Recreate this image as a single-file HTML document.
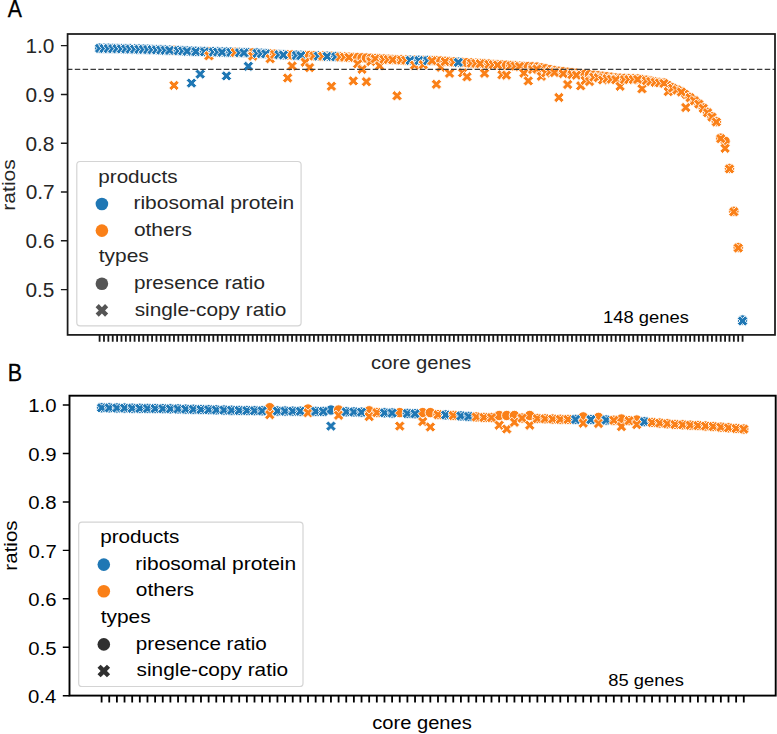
<!DOCTYPE html>
<html><head><meta charset="utf-8"><style>html,body{margin:0;padding:0;background:#fff;overflow:hidden}svg{display:block}text{font-family:"Liberation Sans",sans-serif}</style></head><body>
<svg width="777" height="734" viewBox="0 0 777 734">
<rect width="777" height="734" fill="#fff"/>
<g stroke="#fff" stroke-width="0.9"><circle cx="99.60" cy="48.10" r="5.20" fill="#1f77b4"/><circle cx="103.97" cy="48.20" r="5.20" fill="#1f77b4"/><circle cx="108.35" cy="48.30" r="5.20" fill="#1f77b4"/><circle cx="112.72" cy="48.40" r="5.20" fill="#1f77b4"/><circle cx="117.10" cy="48.50" r="5.20" fill="#1f77b4"/><circle cx="121.47" cy="48.60" r="5.20" fill="#1f77b4"/><circle cx="125.84" cy="48.70" r="5.20" fill="#1f77b4"/><circle cx="130.22" cy="48.80" r="5.20" fill="#1f77b4"/><circle cx="134.59" cy="48.90" r="5.20" fill="#1f77b4"/><circle cx="138.97" cy="49.00" r="5.20" fill="#1f77b4"/><circle cx="143.34" cy="49.10" r="5.20" fill="#1f77b4"/><circle cx="147.71" cy="49.27" r="5.20" fill="#1f77b4"/><circle cx="152.09" cy="49.43" r="5.20" fill="#1f77b4"/><circle cx="156.46" cy="49.60" r="5.20" fill="#1f77b4"/><circle cx="160.84" cy="49.77" r="5.20" fill="#1f77b4"/><circle cx="165.21" cy="49.93" r="5.20" fill="#1f77b4"/><circle cx="169.58" cy="50.10" r="5.20" fill="#1f77b4"/><circle cx="173.96" cy="50.30" r="5.20" fill="#fa8018"/><circle cx="178.33" cy="50.50" r="5.20" fill="#1f77b4"/><circle cx="182.71" cy="50.70" r="5.20" fill="#1f77b4"/><circle cx="187.08" cy="50.90" r="5.20" fill="#1f77b4"/><circle cx="191.45" cy="51.10" r="5.20" fill="#1f77b4"/><circle cx="195.83" cy="51.30" r="5.20" fill="#1f77b4"/><circle cx="200.20" cy="51.40" r="5.20" fill="#1f77b4"/><circle cx="204.58" cy="51.50" r="5.20" fill="#1f77b4"/><circle cx="208.95" cy="51.60" r="5.20" fill="#fa8018"/><circle cx="213.32" cy="51.70" r="5.20" fill="#1f77b4"/><circle cx="217.70" cy="51.80" r="5.20" fill="#1f77b4"/><circle cx="222.07" cy="51.90" r="5.20" fill="#1f77b4"/><circle cx="226.45" cy="52.00" r="5.20" fill="#1f77b4"/><circle cx="230.82" cy="52.10" r="5.20" fill="#1f77b4"/><circle cx="235.19" cy="52.25" r="5.20" fill="#fa8018"/><circle cx="239.57" cy="52.40" r="5.20" fill="#1f77b4"/><circle cx="243.94" cy="52.55" r="5.20" fill="#1f77b4"/><circle cx="248.32" cy="52.70" r="5.20" fill="#1f77b4"/><circle cx="252.69" cy="52.85" r="5.20" fill="#fa8018"/><circle cx="257.06" cy="53.00" r="5.20" fill="#1f77b4"/><circle cx="261.44" cy="53.28" r="5.20" fill="#1f77b4"/><circle cx="265.81" cy="53.57" r="5.20" fill="#1f77b4"/><circle cx="270.19" cy="53.85" r="5.20" fill="#fa8018"/><circle cx="274.56" cy="54.13" r="5.20" fill="#fa8018"/><circle cx="278.93" cy="54.42" r="5.20" fill="#1f77b4"/><circle cx="283.31" cy="54.70" r="5.20" fill="#1f77b4"/><circle cx="287.68" cy="54.85" r="5.20" fill="#fa8018"/><circle cx="292.06" cy="55.00" r="5.20" fill="#fa8018"/><circle cx="296.43" cy="55.15" r="5.20" fill="#1f77b4"/><circle cx="300.80" cy="55.30" r="5.20" fill="#1f77b4"/><circle cx="305.18" cy="55.43" r="5.20" fill="#fa8018"/><circle cx="309.55" cy="55.57" r="5.20" fill="#fa8018"/><circle cx="313.93" cy="55.70" r="5.20" fill="#fa8018"/><circle cx="318.30" cy="55.83" r="5.20" fill="#1f77b4"/><circle cx="322.67" cy="55.97" r="5.20" fill="#fa8018"/><circle cx="327.05" cy="56.10" r="5.20" fill="#1f77b4"/><circle cx="331.42" cy="56.30" r="5.20" fill="#fa8018"/><circle cx="335.80" cy="56.50" r="5.20" fill="#1f77b4"/><circle cx="340.17" cy="56.70" r="5.20" fill="#fa8018"/><circle cx="344.54" cy="56.90" r="5.20" fill="#fa8018"/><circle cx="348.92" cy="57.10" r="5.20" fill="#fa8018"/><circle cx="353.29" cy="57.33" r="5.20" fill="#fa8018"/><circle cx="357.67" cy="57.57" r="5.20" fill="#fa8018"/><circle cx="362.04" cy="57.80" r="5.20" fill="#fa8018"/><circle cx="366.41" cy="58.03" r="5.20" fill="#fa8018"/><circle cx="370.79" cy="58.27" r="5.20" fill="#fa8018"/><circle cx="375.16" cy="58.50" r="5.20" fill="#fa8018"/><circle cx="379.54" cy="58.75" r="5.20" fill="#fa8018"/><circle cx="383.91" cy="59.00" r="5.20" fill="#fa8018"/><circle cx="388.28" cy="59.25" r="5.20" fill="#fa8018"/><circle cx="392.66" cy="59.50" r="5.20" fill="#fa8018"/><circle cx="397.03" cy="59.65" r="5.20" fill="#fa8018"/><circle cx="401.41" cy="59.80" r="5.20" fill="#fa8018"/><circle cx="405.78" cy="59.95" r="5.20" fill="#fa8018"/><circle cx="410.15" cy="60.10" r="5.20" fill="#1f77b4"/><circle cx="414.53" cy="60.18" r="5.20" fill="#fa8018"/><circle cx="418.90" cy="60.26" r="5.20" fill="#1f77b4"/><circle cx="423.28" cy="60.34" r="5.20" fill="#fa8018"/><circle cx="427.65" cy="60.42" r="5.20" fill="#1f77b4"/><circle cx="432.02" cy="60.50" r="5.20" fill="#fa8018"/><circle cx="436.40" cy="60.77" r="5.20" fill="#fa8018"/><circle cx="440.77" cy="61.03" r="5.20" fill="#fa8018"/><circle cx="445.15" cy="61.30" r="5.20" fill="#fa8018"/><circle cx="449.52" cy="61.57" r="5.20" fill="#fa8018"/><circle cx="453.89" cy="61.83" r="5.20" fill="#fa8018"/><circle cx="458.27" cy="62.10" r="5.20" fill="#1f77b4"/><circle cx="462.64" cy="62.36" r="5.20" fill="#fa8018"/><circle cx="467.02" cy="62.62" r="5.20" fill="#fa8018"/><circle cx="471.39" cy="62.88" r="5.20" fill="#fa8018"/><circle cx="475.76" cy="63.14" r="5.20" fill="#fa8018"/><circle cx="480.14" cy="63.40" r="5.20" fill="#fa8018"/><circle cx="484.51" cy="63.73" r="5.20" fill="#fa8018"/><circle cx="488.89" cy="64.05" r="5.20" fill="#fa8018"/><circle cx="493.26" cy="64.38" r="5.20" fill="#fa8018"/><circle cx="497.63" cy="64.70" r="5.20" fill="#fa8018"/><circle cx="502.01" cy="64.96" r="5.20" fill="#fa8018"/><circle cx="506.38" cy="65.22" r="5.20" fill="#fa8018"/><circle cx="510.76" cy="65.48" r="5.20" fill="#fa8018"/><circle cx="515.13" cy="65.74" r="5.20" fill="#fa8018"/><circle cx="519.50" cy="66.14" r="5.20" fill="#fa8018"/><circle cx="523.88" cy="66.36" r="5.20" fill="#fa8018"/><circle cx="528.25" cy="66.57" r="5.20" fill="#fa8018"/><circle cx="532.63" cy="66.78" r="5.20" fill="#fa8018"/><circle cx="537.00" cy="67.00" r="5.20" fill="#fa8018"/><circle cx="541.37" cy="67.89" r="5.20" fill="#fa8018"/><circle cx="545.75" cy="68.78" r="5.20" fill="#fa8018"/><circle cx="550.12" cy="69.67" r="5.20" fill="#fa8018"/><circle cx="554.50" cy="70.56" r="5.20" fill="#fa8018"/><circle cx="558.87" cy="71.20" r="5.20" fill="#fa8018"/><circle cx="563.24" cy="71.70" r="5.20" fill="#fa8018"/><circle cx="567.62" cy="72.20" r="5.20" fill="#fa8018"/><circle cx="571.99" cy="72.70" r="5.20" fill="#fa8018"/><circle cx="576.37" cy="73.20" r="5.20" fill="#fa8018"/><circle cx="580.74" cy="73.70" r="5.20" fill="#fa8018"/><circle cx="585.11" cy="74.20" r="5.20" fill="#fa8018"/><circle cx="589.49" cy="74.70" r="5.20" fill="#fa8018"/><circle cx="593.86" cy="75.20" r="5.20" fill="#fa8018"/><circle cx="598.24" cy="75.70" r="5.20" fill="#fa8018"/><circle cx="602.61" cy="76.20" r="5.20" fill="#fa8018"/><circle cx="606.98" cy="76.70" r="5.20" fill="#fa8018"/><circle cx="611.36" cy="77.20" r="5.20" fill="#fa8018"/><circle cx="615.73" cy="77.95" r="5.20" fill="#fa8018"/><circle cx="620.11" cy="78.15" r="5.20" fill="#fa8018"/><circle cx="624.48" cy="78.35" r="5.20" fill="#fa8018"/><circle cx="628.85" cy="78.55" r="5.20" fill="#fa8018"/><circle cx="633.23" cy="78.75" r="5.20" fill="#fa8018"/><circle cx="637.60" cy="78.95" r="5.20" fill="#fa8018"/><circle cx="641.98" cy="79.46" r="5.20" fill="#fa8018"/><circle cx="646.35" cy="80.22" r="5.20" fill="#fa8018"/><circle cx="650.72" cy="81.03" r="5.20" fill="#fa8018"/><circle cx="655.10" cy="81.83" r="5.20" fill="#fa8018"/><circle cx="659.47" cy="82.39" r="5.20" fill="#fa8018"/><circle cx="663.85" cy="82.95" r="5.20" fill="#fa8018"/><circle cx="668.22" cy="85.36" r="5.20" fill="#fa8018"/><circle cx="672.59" cy="87.77" r="5.20" fill="#fa8018"/><circle cx="676.97" cy="89.58" r="5.20" fill="#fa8018"/><circle cx="681.34" cy="91.57" r="5.20" fill="#fa8018"/><circle cx="685.72" cy="94.56" r="5.20" fill="#fa8018"/><circle cx="690.09" cy="97.35" r="5.20" fill="#fa8018"/><circle cx="694.46" cy="100.34" r="5.20" fill="#fa8018"/><circle cx="698.84" cy="103.73" r="5.20" fill="#fa8018"/><circle cx="703.21" cy="107.92" r="5.20" fill="#fa8018"/><circle cx="707.59" cy="112.33" r="5.20" fill="#fa8018"/><circle cx="711.96" cy="116.74" r="5.20" fill="#fa8018"/><circle cx="716.33" cy="121.65" r="5.20" fill="#fa8018"/><circle cx="720.71" cy="138.10" r="5.20" fill="#fa8018"/><circle cx="725.08" cy="141.20" r="5.20" fill="#fa8018"/><circle cx="729.46" cy="168.40" r="5.20" fill="#fa8018"/><circle cx="733.83" cy="211.30" r="5.20" fill="#fa8018"/><circle cx="738.20" cy="247.50" r="5.20" fill="#fa8018"/><circle cx="742.58" cy="320.00" r="5.20" fill="#1f77b4"/><path d="M97.00 43.20 L99.60 45.80 L102.20 43.20 L104.80 45.80 L102.20 48.40 L104.80 51.00 L102.20 53.60 L99.60 51.00 L97.00 53.60 L94.40 51.00 L97.00 48.40 L94.40 45.80Z" fill="#1f77b4"/><path d="M101.37 43.30 L103.97 45.90 L106.57 43.30 L109.17 45.90 L106.57 48.50 L109.17 51.10 L106.57 53.70 L103.97 51.10 L101.37 53.70 L98.77 51.10 L101.37 48.50 L98.77 45.90Z" fill="#1f77b4"/><path d="M105.75 43.40 L108.35 46.00 L110.95 43.40 L113.55 46.00 L110.95 48.60 L113.55 51.20 L110.95 53.80 L108.35 51.20 L105.75 53.80 L103.15 51.20 L105.75 48.60 L103.15 46.00Z" fill="#1f77b4"/><path d="M110.12 43.50 L112.72 46.10 L115.32 43.50 L117.92 46.10 L115.32 48.70 L117.92 51.30 L115.32 53.90 L112.72 51.30 L110.12 53.90 L107.52 51.30 L110.12 48.70 L107.52 46.10Z" fill="#1f77b4"/><path d="M114.50 43.60 L117.10 46.20 L119.70 43.60 L122.30 46.20 L119.70 48.80 L122.30 51.40 L119.70 54.00 L117.10 51.40 L114.50 54.00 L111.90 51.40 L114.50 48.80 L111.90 46.20Z" fill="#1f77b4"/><path d="M118.87 43.70 L121.47 46.30 L124.07 43.70 L126.67 46.30 L124.07 48.90 L126.67 51.50 L124.07 54.10 L121.47 51.50 L118.87 54.10 L116.27 51.50 L118.87 48.90 L116.27 46.30Z" fill="#1f77b4"/><path d="M123.24 43.80 L125.84 46.40 L128.44 43.80 L131.04 46.40 L128.44 49.00 L131.04 51.60 L128.44 54.20 L125.84 51.60 L123.24 54.20 L120.64 51.60 L123.24 49.00 L120.64 46.40Z" fill="#1f77b4"/><path d="M127.62 43.90 L130.22 46.50 L132.82 43.90 L135.42 46.50 L132.82 49.10 L135.42 51.70 L132.82 54.30 L130.22 51.70 L127.62 54.30 L125.02 51.70 L127.62 49.10 L125.02 46.50Z" fill="#1f77b4"/><path d="M131.99 44.00 L134.59 46.60 L137.19 44.00 L139.79 46.60 L137.19 49.20 L139.79 51.80 L137.19 54.40 L134.59 51.80 L131.99 54.40 L129.39 51.80 L131.99 49.20 L129.39 46.60Z" fill="#1f77b4"/><path d="M136.37 44.10 L138.97 46.70 L141.57 44.10 L144.17 46.70 L141.57 49.30 L144.17 51.90 L141.57 54.50 L138.97 51.90 L136.37 54.50 L133.77 51.90 L136.37 49.30 L133.77 46.70Z" fill="#1f77b4"/><path d="M140.74 44.20 L143.34 46.80 L145.94 44.20 L148.54 46.80 L145.94 49.40 L148.54 52.00 L145.94 54.60 L143.34 52.00 L140.74 54.60 L138.14 52.00 L140.74 49.40 L138.14 46.80Z" fill="#1f77b4"/><path d="M145.11 44.37 L147.71 46.97 L150.31 44.37 L152.91 46.97 L150.31 49.57 L152.91 52.17 L150.31 54.77 L147.71 52.17 L145.11 54.77 L142.51 52.17 L145.11 49.57 L142.51 46.97Z" fill="#1f77b4"/><path d="M149.49 44.53 L152.09 47.13 L154.69 44.53 L157.29 47.13 L154.69 49.73 L157.29 52.33 L154.69 54.93 L152.09 52.33 L149.49 54.93 L146.89 52.33 L149.49 49.73 L146.89 47.13Z" fill="#1f77b4"/><path d="M153.86 44.70 L156.46 47.30 L159.06 44.70 L161.66 47.30 L159.06 49.90 L161.66 52.50 L159.06 55.10 L156.46 52.50 L153.86 55.10 L151.26 52.50 L153.86 49.90 L151.26 47.30Z" fill="#1f77b4"/><path d="M158.24 44.87 L160.84 47.47 L163.44 44.87 L166.04 47.47 L163.44 50.07 L166.04 52.67 L163.44 55.27 L160.84 52.67 L158.24 55.27 L155.64 52.67 L158.24 50.07 L155.64 47.47Z" fill="#1f77b4"/><path d="M162.61 45.03 L165.21 47.63 L167.81 45.03 L170.41 47.63 L167.81 50.23 L170.41 52.83 L167.81 55.43 L165.21 52.83 L162.61 55.43 L160.01 52.83 L162.61 50.23 L160.01 47.63Z" fill="#1f77b4"/><path d="M166.98 45.20 L169.58 47.80 L172.18 45.20 L174.78 47.80 L172.18 50.40 L174.78 53.00 L172.18 55.60 L169.58 53.00 L166.98 55.60 L164.38 53.00 L166.98 50.40 L164.38 47.80Z" fill="#1f77b4"/><path d="M171.36 80.20 L173.96 82.80 L176.56 80.20 L179.16 82.80 L176.56 85.40 L179.16 88.00 L176.56 90.60 L173.96 88.00 L171.36 90.60 L168.76 88.00 L171.36 85.40 L168.76 82.80Z" fill="#fa8018"/><path d="M175.73 45.60 L178.33 48.20 L180.93 45.60 L183.53 48.20 L180.93 50.80 L183.53 53.40 L180.93 56.00 L178.33 53.40 L175.73 56.00 L173.13 53.40 L175.73 50.80 L173.13 48.20Z" fill="#1f77b4"/><path d="M180.11 45.80 L182.71 48.40 L185.31 45.80 L187.91 48.40 L185.31 51.00 L187.91 53.60 L185.31 56.20 L182.71 53.60 L180.11 56.20 L177.51 53.60 L180.11 51.00 L177.51 48.40Z" fill="#1f77b4"/><path d="M184.48 46.00 L187.08 48.60 L189.68 46.00 L192.28 48.60 L189.68 51.20 L192.28 53.80 L189.68 56.40 L187.08 53.80 L184.48 56.40 L181.88 53.80 L184.48 51.20 L181.88 48.60Z" fill="#1f77b4"/><path d="M188.85 77.90 L191.45 80.50 L194.05 77.90 L196.65 80.50 L194.05 83.10 L196.65 85.70 L194.05 88.30 L191.45 85.70 L188.85 88.30 L186.25 85.70 L188.85 83.10 L186.25 80.50Z" fill="#1f77b4"/><path d="M193.23 46.40 L195.83 49.00 L198.43 46.40 L201.03 49.00 L198.43 51.60 L201.03 54.20 L198.43 56.80 L195.83 54.20 L193.23 56.80 L190.63 54.20 L193.23 51.60 L190.63 49.00Z" fill="#1f77b4"/><path d="M197.60 68.90 L200.20 71.50 L202.80 68.90 L205.40 71.50 L202.80 74.10 L205.40 76.70 L202.80 79.30 L200.20 76.70 L197.60 79.30 L195.00 76.70 L197.60 74.10 L195.00 71.50Z" fill="#1f77b4"/><path d="M201.98 46.60 L204.58 49.20 L207.18 46.60 L209.78 49.20 L207.18 51.80 L209.78 54.40 L207.18 57.00 L204.58 54.40 L201.98 57.00 L199.38 54.40 L201.98 51.80 L199.38 49.20Z" fill="#1f77b4"/><path d="M206.35 50.60 L208.95 53.20 L211.55 50.60 L214.15 53.20 L211.55 55.80 L214.15 58.40 L211.55 61.00 L208.95 58.40 L206.35 61.00 L203.75 58.40 L206.35 55.80 L203.75 53.20Z" fill="#fa8018"/><path d="M210.72 46.80 L213.32 49.40 L215.92 46.80 L218.52 49.40 L215.92 52.00 L218.52 54.60 L215.92 57.20 L213.32 54.60 L210.72 57.20 L208.12 54.60 L210.72 52.00 L208.12 49.40Z" fill="#1f77b4"/><path d="M215.10 46.90 L217.70 49.50 L220.30 46.90 L222.90 49.50 L220.30 52.10 L222.90 54.70 L220.30 57.30 L217.70 54.70 L215.10 57.30 L212.50 54.70 L215.10 52.10 L212.50 49.50Z" fill="#1f77b4"/><path d="M219.47 47.00 L222.07 49.60 L224.67 47.00 L227.27 49.60 L224.67 52.20 L227.27 54.80 L224.67 57.40 L222.07 54.80 L219.47 57.40 L216.87 54.80 L219.47 52.20 L216.87 49.60Z" fill="#1f77b4"/><path d="M223.85 70.70 L226.45 73.30 L229.05 70.70 L231.65 73.30 L229.05 75.90 L231.65 78.50 L229.05 81.10 L226.45 78.50 L223.85 81.10 L221.25 78.50 L223.85 75.90 L221.25 73.30Z" fill="#1f77b4"/><path d="M228.22 47.20 L230.82 49.80 L233.42 47.20 L236.02 49.80 L233.42 52.40 L236.02 55.00 L233.42 57.60 L230.82 55.00 L228.22 57.60 L225.62 55.00 L228.22 52.40 L225.62 49.80Z" fill="#1f77b4"/><path d="M232.59 47.35 L235.19 49.95 L237.79 47.35 L240.39 49.95 L237.79 52.55 L240.39 55.15 L237.79 57.75 L235.19 55.15 L232.59 57.75 L229.99 55.15 L232.59 52.55 L229.99 49.95Z" fill="#fa8018"/><path d="M236.97 47.50 L239.57 50.10 L242.17 47.50 L244.77 50.10 L242.17 52.70 L244.77 55.30 L242.17 57.90 L239.57 55.30 L236.97 57.90 L234.37 55.30 L236.97 52.70 L234.37 50.10Z" fill="#1f77b4"/><path d="M241.34 47.65 L243.94 50.25 L246.54 47.65 L249.14 50.25 L246.54 52.85 L249.14 55.45 L246.54 58.05 L243.94 55.45 L241.34 58.05 L238.74 55.45 L241.34 52.85 L238.74 50.25Z" fill="#1f77b4"/><path d="M245.72 61.10 L248.32 63.70 L250.92 61.10 L253.52 63.70 L250.92 66.30 L253.52 68.90 L250.92 71.50 L248.32 68.90 L245.72 71.50 L243.12 68.90 L245.72 66.30 L243.12 63.70Z" fill="#1f77b4"/><path d="M250.09 51.00 L252.69 53.60 L255.29 51.00 L257.89 53.60 L255.29 56.20 L257.89 58.80 L255.29 61.40 L252.69 58.80 L250.09 61.40 L247.49 58.80 L250.09 56.20 L247.49 53.60Z" fill="#fa8018"/><path d="M254.46 48.10 L257.06 50.70 L259.66 48.10 L262.26 50.70 L259.66 53.30 L262.26 55.90 L259.66 58.50 L257.06 55.90 L254.46 58.50 L251.86 55.90 L254.46 53.30 L251.86 50.70Z" fill="#1f77b4"/><path d="M258.84 48.38 L261.44 50.98 L264.04 48.38 L266.64 50.98 L264.04 53.58 L266.64 56.18 L264.04 58.78 L261.44 56.18 L258.84 58.78 L256.24 56.18 L258.84 53.58 L256.24 50.98Z" fill="#1f77b4"/><path d="M263.21 48.67 L265.81 51.27 L268.41 48.67 L271.01 51.27 L268.41 53.87 L271.01 56.47 L268.41 59.07 L265.81 56.47 L263.21 59.07 L260.61 56.47 L263.21 53.87 L260.61 51.27Z" fill="#1f77b4"/><path d="M267.59 53.50 L270.19 56.10 L272.79 53.50 L275.39 56.10 L272.79 58.70 L275.39 61.30 L272.79 63.90 L270.19 61.30 L267.59 63.90 L264.99 61.30 L267.59 58.70 L264.99 56.10Z" fill="#fa8018"/><path d="M271.96 49.23 L274.56 51.83 L277.16 49.23 L279.76 51.83 L277.16 54.43 L279.76 57.03 L277.16 59.63 L274.56 57.03 L271.96 59.63 L269.36 57.03 L271.96 54.43 L269.36 51.83Z" fill="#fa8018"/><path d="M276.33 49.52 L278.93 52.12 L281.53 49.52 L284.13 52.12 L281.53 54.72 L284.13 57.32 L281.53 59.92 L278.93 57.32 L276.33 59.92 L273.73 57.32 L276.33 54.72 L273.73 52.12Z" fill="#1f77b4"/><path d="M280.71 49.80 L283.31 52.40 L285.91 49.80 L288.51 52.40 L285.91 55.00 L288.51 57.60 L285.91 60.20 L283.31 57.60 L280.71 60.20 L278.11 57.60 L280.71 55.00 L278.11 52.40Z" fill="#1f77b4"/><path d="M285.08 72.80 L287.68 75.40 L290.28 72.80 L292.88 75.40 L290.28 78.00 L292.88 80.60 L290.28 83.20 L287.68 80.60 L285.08 83.20 L282.48 80.60 L285.08 78.00 L282.48 75.40Z" fill="#fa8018"/><path d="M289.46 60.80 L292.06 63.40 L294.66 60.80 L297.26 63.40 L294.66 66.00 L297.26 68.60 L294.66 71.20 L292.06 68.60 L289.46 71.20 L286.86 68.60 L289.46 66.00 L286.86 63.40Z" fill="#fa8018"/><path d="M293.83 50.25 L296.43 52.85 L299.03 50.25 L301.63 52.85 L299.03 55.45 L301.63 58.05 L299.03 60.65 L296.43 58.05 L293.83 60.65 L291.23 58.05 L293.83 55.45 L291.23 52.85Z" fill="#1f77b4"/><path d="M298.20 50.40 L300.80 53.00 L303.40 50.40 L306.00 53.00 L303.40 55.60 L306.00 58.20 L303.40 60.80 L300.80 58.20 L298.20 60.80 L295.60 58.20 L298.20 55.60 L295.60 53.00Z" fill="#1f77b4"/><path d="M302.58 57.00 L305.18 59.60 L307.78 57.00 L310.38 59.60 L307.78 62.20 L310.38 64.80 L307.78 67.40 L305.18 64.80 L302.58 67.40 L299.98 64.80 L302.58 62.20 L299.98 59.60Z" fill="#fa8018"/><path d="M306.95 62.40 L309.55 65.00 L312.15 62.40 L314.75 65.00 L312.15 67.60 L314.75 70.20 L312.15 72.80 L309.55 70.20 L306.95 72.80 L304.35 70.20 L306.95 67.60 L304.35 65.00Z" fill="#fa8018"/><path d="M311.33 50.80 L313.93 53.40 L316.53 50.80 L319.13 53.40 L316.53 56.00 L319.13 58.60 L316.53 61.20 L313.93 58.60 L311.33 61.20 L308.73 58.60 L311.33 56.00 L308.73 53.40Z" fill="#fa8018"/><path d="M315.70 50.93 L318.30 53.53 L320.90 50.93 L323.50 53.53 L320.90 56.13 L323.50 58.73 L320.90 61.33 L318.30 58.73 L315.70 61.33 L313.10 58.73 L315.70 56.13 L313.10 53.53Z" fill="#1f77b4"/><path d="M320.07 51.07 L322.67 53.67 L325.27 51.07 L327.87 53.67 L325.27 56.27 L327.87 58.87 L325.27 61.47 L322.67 58.87 L320.07 61.47 L317.47 58.87 L320.07 56.27 L317.47 53.67Z" fill="#fa8018"/><path d="M324.45 51.20 L327.05 53.80 L329.65 51.20 L332.25 53.80 L329.65 56.40 L332.25 59.00 L329.65 61.60 L327.05 59.00 L324.45 61.60 L321.85 59.00 L324.45 56.40 L321.85 53.80Z" fill="#1f77b4"/><path d="M328.82 81.10 L331.42 83.70 L334.02 81.10 L336.62 83.70 L334.02 86.30 L336.62 88.90 L334.02 91.50 L331.42 88.90 L328.82 91.50 L326.22 88.90 L328.82 86.30 L326.22 83.70Z" fill="#fa8018"/><path d="M333.20 51.60 L335.80 54.20 L338.40 51.60 L341.00 54.20 L338.40 56.80 L341.00 59.40 L338.40 62.00 L335.80 59.40 L333.20 62.00 L330.60 59.40 L333.20 56.80 L330.60 54.20Z" fill="#1f77b4"/><path d="M337.57 51.80 L340.17 54.40 L342.77 51.80 L345.37 54.40 L342.77 57.00 L345.37 59.60 L342.77 62.20 L340.17 59.60 L337.57 62.20 L334.97 59.60 L337.57 57.00 L334.97 54.40Z" fill="#fa8018"/><path d="M341.94 52.00 L344.54 54.60 L347.14 52.00 L349.74 54.60 L347.14 57.20 L349.74 59.80 L347.14 62.40 L344.54 59.80 L341.94 62.40 L339.34 59.80 L341.94 57.20 L339.34 54.60Z" fill="#fa8018"/><path d="M346.32 52.20 L348.92 54.80 L351.52 52.20 L354.12 54.80 L351.52 57.40 L354.12 60.00 L351.52 62.60 L348.92 60.00 L346.32 62.60 L343.72 60.00 L346.32 57.40 L343.72 54.80Z" fill="#fa8018"/><path d="M350.69 75.70 L353.29 78.30 L355.89 75.70 L358.49 78.30 L355.89 80.90 L358.49 83.50 L355.89 86.10 L353.29 83.50 L350.69 86.10 L348.09 83.50 L350.69 80.90 L348.09 78.30Z" fill="#fa8018"/><path d="M355.07 58.60 L357.67 61.20 L360.27 58.60 L362.87 61.20 L360.27 63.80 L362.87 66.40 L360.27 69.00 L357.67 66.40 L355.07 69.00 L352.47 66.40 L355.07 63.80 L352.47 61.20Z" fill="#fa8018"/><path d="M359.44 64.10 L362.04 66.70 L364.64 64.10 L367.24 66.70 L364.64 69.30 L367.24 71.90 L364.64 74.50 L362.04 71.90 L359.44 74.50 L356.84 71.90 L359.44 69.30 L356.84 66.70Z" fill="#fa8018"/><path d="M363.81 76.50 L366.41 79.10 L369.01 76.50 L371.61 79.10 L369.01 81.70 L371.61 84.30 L369.01 86.90 L366.41 84.30 L363.81 86.90 L361.21 84.30 L363.81 81.70 L361.21 79.10Z" fill="#fa8018"/><path d="M368.19 56.30 L370.79 58.90 L373.39 56.30 L375.99 58.90 L373.39 61.50 L375.99 64.10 L373.39 66.70 L370.79 64.10 L368.19 66.70 L365.59 64.10 L368.19 61.50 L365.59 58.90Z" fill="#fa8018"/><path d="M372.56 53.60 L375.16 56.20 L377.76 53.60 L380.36 56.20 L377.76 58.80 L380.36 61.40 L377.76 64.00 L375.16 61.40 L372.56 64.00 L369.96 61.40 L372.56 58.80 L369.96 56.20Z" fill="#fa8018"/><path d="M376.94 60.60 L379.54 63.20 L382.14 60.60 L384.74 63.20 L382.14 65.80 L384.74 68.40 L382.14 71.00 L379.54 68.40 L376.94 71.00 L374.34 68.40 L376.94 65.80 L374.34 63.20Z" fill="#fa8018"/><path d="M381.31 54.10 L383.91 56.70 L386.51 54.10 L389.11 56.70 L386.51 59.30 L389.11 61.90 L386.51 64.50 L383.91 61.90 L381.31 64.50 L378.71 61.90 L381.31 59.30 L378.71 56.70Z" fill="#fa8018"/><path d="M385.68 54.35 L388.28 56.95 L390.88 54.35 L393.48 56.95 L390.88 59.55 L393.48 62.15 L390.88 64.75 L388.28 62.15 L385.68 64.75 L383.08 62.15 L385.68 59.55 L383.08 56.95Z" fill="#fa8018"/><path d="M390.06 54.60 L392.66 57.20 L395.26 54.60 L397.86 57.20 L395.26 59.80 L397.86 62.40 L395.26 65.00 L392.66 62.40 L390.06 65.00 L387.46 62.40 L390.06 59.80 L387.46 57.20Z" fill="#fa8018"/><path d="M394.43 90.60 L397.03 93.20 L399.63 90.60 L402.23 93.20 L399.63 95.80 L402.23 98.40 L399.63 101.00 L397.03 98.40 L394.43 101.00 L391.83 98.40 L394.43 95.80 L391.83 93.20Z" fill="#fa8018"/><path d="M398.81 54.90 L401.41 57.50 L404.01 54.90 L406.61 57.50 L404.01 60.10 L406.61 62.70 L404.01 65.30 L401.41 62.70 L398.81 65.30 L396.21 62.70 L398.81 60.10 L396.21 57.50Z" fill="#fa8018"/><path d="M403.18 55.05 L405.78 57.65 L408.38 55.05 L410.98 57.65 L408.38 60.25 L410.98 62.85 L408.38 65.45 L405.78 62.85 L403.18 65.45 L400.58 62.85 L403.18 60.25 L400.58 57.65Z" fill="#fa8018"/><path d="M407.55 55.20 L410.15 57.80 L412.75 55.20 L415.35 57.80 L412.75 60.40 L415.35 63.00 L412.75 65.60 L410.15 63.00 L407.55 65.60 L404.95 63.00 L407.55 60.40 L404.95 57.80Z" fill="#1f77b4"/><path d="M411.93 60.00 L414.53 62.60 L417.13 60.00 L419.73 62.60 L417.13 65.20 L419.73 67.80 L417.13 70.40 L414.53 67.80 L411.93 70.40 L409.33 67.80 L411.93 65.20 L409.33 62.60Z" fill="#fa8018"/><path d="M416.30 55.36 L418.90 57.96 L421.50 55.36 L424.10 57.96 L421.50 60.56 L424.10 63.16 L421.50 65.76 L418.90 63.16 L416.30 65.76 L413.70 63.16 L416.30 60.56 L413.70 57.96Z" fill="#1f77b4"/><path d="M420.68 59.50 L423.28 62.10 L425.88 59.50 L428.48 62.10 L425.88 64.70 L428.48 67.30 L425.88 69.90 L423.28 67.30 L420.68 69.90 L418.08 67.30 L420.68 64.70 L418.08 62.10Z" fill="#fa8018"/><path d="M425.05 55.52 L427.65 58.12 L430.25 55.52 L432.85 58.12 L430.25 60.72 L432.85 63.32 L430.25 65.92 L427.65 63.32 L425.05 65.92 L422.45 63.32 L425.05 60.72 L422.45 58.12Z" fill="#1f77b4"/><path d="M429.42 55.60 L432.02 58.20 L434.62 55.60 L437.22 58.20 L434.62 60.80 L437.22 63.40 L434.62 66.00 L432.02 63.40 L429.42 66.00 L426.82 63.40 L429.42 60.80 L426.82 58.20Z" fill="#fa8018"/><path d="M433.80 79.10 L436.40 81.70 L439.00 79.10 L441.60 81.70 L439.00 84.30 L441.60 86.90 L439.00 89.50 L436.40 86.90 L433.80 89.50 L431.20 86.90 L433.80 84.30 L431.20 81.70Z" fill="#fa8018"/><path d="M438.17 62.10 L440.77 64.70 L443.37 62.10 L445.97 64.70 L443.37 67.30 L445.97 69.90 L443.37 72.50 L440.77 69.90 L438.17 72.50 L435.57 69.90 L438.17 67.30 L435.57 64.70Z" fill="#fa8018"/><path d="M442.55 56.40 L445.15 59.00 L447.75 56.40 L450.35 59.00 L447.75 61.60 L450.35 64.20 L447.75 66.80 L445.15 64.20 L442.55 66.80 L439.95 64.20 L442.55 61.60 L439.95 59.00Z" fill="#fa8018"/><path d="M446.92 68.10 L449.52 70.70 L452.12 68.10 L454.72 70.70 L452.12 73.30 L454.72 75.90 L452.12 78.50 L449.52 75.90 L446.92 78.50 L444.32 75.90 L446.92 73.30 L444.32 70.70Z" fill="#fa8018"/><path d="M451.29 56.93 L453.89 59.53 L456.49 56.93 L459.09 59.53 L456.49 62.13 L459.09 64.73 L456.49 67.33 L453.89 64.73 L451.29 67.33 L448.69 64.73 L451.29 62.13 L448.69 59.53Z" fill="#fa8018"/><path d="M455.67 57.20 L458.27 59.80 L460.87 57.20 L463.47 59.80 L460.87 62.40 L463.47 65.00 L460.87 67.60 L458.27 65.00 L455.67 67.60 L453.07 65.00 L455.67 62.40 L453.07 59.80Z" fill="#1f77b4"/><path d="M460.04 67.60 L462.64 70.20 L465.24 67.60 L467.84 70.20 L465.24 72.80 L467.84 75.40 L465.24 78.00 L462.64 75.40 L460.04 78.00 L457.44 75.40 L460.04 72.80 L457.44 70.20Z" fill="#fa8018"/><path d="M464.42 71.60 L467.02 74.20 L469.62 71.60 L472.22 74.20 L469.62 76.80 L472.22 79.40 L469.62 82.00 L467.02 79.40 L464.42 82.00 L461.82 79.40 L464.42 76.80 L461.82 74.20Z" fill="#fa8018"/><path d="M468.79 57.98 L471.39 60.58 L473.99 57.98 L476.59 60.58 L473.99 63.18 L476.59 65.78 L473.99 68.38 L471.39 65.78 L468.79 68.38 L466.19 65.78 L468.79 63.18 L466.19 60.58Z" fill="#fa8018"/><path d="M473.16 58.24 L475.76 60.84 L478.36 58.24 L480.96 60.84 L478.36 63.44 L480.96 66.04 L478.36 68.64 L475.76 66.04 L473.16 68.64 L470.56 66.04 L473.16 63.44 L470.56 60.84Z" fill="#fa8018"/><path d="M477.54 58.50 L480.14 61.10 L482.74 58.50 L485.34 61.10 L482.74 63.70 L485.34 66.30 L482.74 68.90 L480.14 66.30 L477.54 68.90 L474.94 66.30 L477.54 63.70 L474.94 61.10Z" fill="#fa8018"/><path d="M481.91 68.10 L484.51 70.70 L487.11 68.10 L489.71 70.70 L487.11 73.30 L489.71 75.90 L487.11 78.50 L484.51 75.90 L481.91 78.50 L479.31 75.90 L481.91 73.30 L479.31 70.70Z" fill="#fa8018"/><path d="M486.29 59.15 L488.89 61.75 L491.49 59.15 L494.09 61.75 L491.49 64.35 L494.09 66.95 L491.49 69.55 L488.89 66.95 L486.29 69.55 L483.69 66.95 L486.29 64.35 L483.69 61.75Z" fill="#fa8018"/><path d="M490.66 59.47 L493.26 62.07 L495.86 59.47 L498.46 62.07 L495.86 64.67 L498.46 67.27 L495.86 69.88 L493.26 67.27 L490.66 69.88 L488.06 67.27 L490.66 64.67 L488.06 62.07Z" fill="#fa8018"/><path d="M495.03 59.80 L497.63 62.40 L500.23 59.80 L502.83 62.40 L500.23 65.00 L502.83 67.60 L500.23 70.20 L497.63 67.60 L495.03 70.20 L492.43 67.60 L495.03 65.00 L492.43 62.40Z" fill="#fa8018"/><path d="M499.41 69.60 L502.01 72.20 L504.61 69.60 L507.21 72.20 L504.61 74.80 L507.21 77.40 L504.61 80.00 L502.01 77.40 L499.41 80.00 L496.81 77.40 L499.41 74.80 L496.81 72.20Z" fill="#fa8018"/><path d="M503.78 70.00 L506.38 72.60 L508.98 70.00 L511.58 72.60 L508.98 75.20 L511.58 77.80 L508.98 80.40 L506.38 77.80 L503.78 80.40 L501.18 77.80 L503.78 75.20 L501.18 72.60Z" fill="#fa8018"/><path d="M508.16 60.58 L510.76 63.18 L513.36 60.58 L515.96 63.18 L513.36 65.78 L515.96 68.38 L513.36 70.98 L510.76 68.38 L508.16 70.98 L505.56 68.38 L508.16 65.78 L505.56 63.18Z" fill="#fa8018"/><path d="M512.53 60.84 L515.13 63.44 L517.73 60.84 L520.33 63.44 L517.73 66.04 L520.33 68.64 L517.73 71.24 L515.13 68.64 L512.53 71.24 L509.93 68.64 L512.53 66.04 L509.93 63.44Z" fill="#fa8018"/><path d="M516.90 61.24 L519.50 63.84 L522.10 61.24 L524.70 63.84 L522.10 66.44 L524.70 69.04 L522.10 71.64 L519.50 69.04 L516.90 71.64 L514.30 69.04 L516.90 66.44 L514.30 63.84Z" fill="#fa8018"/><path d="M521.28 68.00 L523.88 70.60 L526.48 68.00 L529.08 70.60 L526.48 73.20 L529.08 75.80 L526.48 78.40 L523.88 75.80 L521.28 78.40 L518.68 75.80 L521.28 73.20 L518.68 70.60Z" fill="#fa8018"/><path d="M525.65 75.70 L528.25 78.30 L530.85 75.70 L533.45 78.30 L530.85 80.90 L533.45 83.50 L530.85 86.10 L528.25 83.50 L525.65 86.10 L523.05 83.50 L525.65 80.90 L523.05 78.30Z" fill="#fa8018"/><path d="M530.03 64.30 L532.63 66.90 L535.23 64.30 L537.83 66.90 L535.23 69.50 L537.83 72.10 L535.23 74.70 L532.63 72.10 L530.03 74.70 L527.43 72.10 L530.03 69.50 L527.43 66.90Z" fill="#fa8018"/><path d="M534.40 63.80 L537.00 66.40 L539.60 63.80 L542.20 66.40 L539.60 69.00 L542.20 71.60 L539.60 74.20 L537.00 71.60 L534.40 74.20 L531.80 71.60 L534.40 69.00 L531.80 66.40Z" fill="#fa8018"/><path d="M538.77 71.10 L541.37 73.70 L543.97 71.10 L546.57 73.70 L543.97 76.30 L546.57 78.90 L543.97 81.50 L541.37 78.90 L538.77 81.50 L536.17 78.90 L538.77 76.30 L536.17 73.70Z" fill="#fa8018"/><path d="M543.15 67.80 L545.75 70.40 L548.35 67.80 L550.95 70.40 L548.35 73.00 L550.95 75.60 L548.35 78.20 L545.75 75.60 L543.15 78.20 L540.55 75.60 L543.15 73.00 L540.55 70.40Z" fill="#fa8018"/><path d="M547.52 66.47 L550.12 69.07 L552.72 66.47 L555.32 69.07 L552.72 71.67 L555.32 74.27 L552.72 76.87 L550.12 74.27 L547.52 76.87 L544.92 74.27 L547.52 71.67 L544.92 69.07Z" fill="#fa8018"/><path d="M551.90 67.36 L554.50 69.96 L557.10 67.36 L559.70 69.96 L557.10 72.56 L559.70 75.16 L557.10 77.76 L554.50 75.16 L551.90 77.76 L549.30 75.16 L551.90 72.56 L549.30 69.96Z" fill="#fa8018"/><path d="M556.27 92.30 L558.87 94.90 L561.47 92.30 L564.07 94.90 L561.47 97.50 L564.07 100.10 L561.47 102.70 L558.87 100.10 L556.27 102.70 L553.67 100.10 L556.27 97.50 L553.67 94.90Z" fill="#fa8018"/><path d="M560.64 68.50 L563.24 71.10 L565.84 68.50 L568.44 71.10 L565.84 73.70 L568.44 76.30 L565.84 78.90 L563.24 76.30 L560.64 78.90 L558.04 76.30 L560.64 73.70 L558.04 71.10Z" fill="#fa8018"/><path d="M565.02 79.30 L567.62 81.90 L570.22 79.30 L572.82 81.90 L570.22 84.50 L572.82 87.10 L570.22 89.70 L567.62 87.10 L565.02 89.70 L562.42 87.10 L565.02 84.50 L562.42 81.90Z" fill="#fa8018"/><path d="M569.39 69.50 L571.99 72.10 L574.59 69.50 L577.19 72.10 L574.59 74.70 L577.19 77.30 L574.59 79.90 L571.99 77.30 L569.39 79.90 L566.79 77.30 L569.39 74.70 L566.79 72.10Z" fill="#fa8018"/><path d="M573.77 70.00 L576.37 72.60 L578.97 70.00 L581.57 72.60 L578.97 75.20 L581.57 77.80 L578.97 80.40 L576.37 77.80 L573.77 80.40 L571.17 77.80 L573.77 75.20 L571.17 72.60Z" fill="#fa8018"/><path d="M578.14 80.60 L580.74 83.20 L583.34 80.60 L585.94 83.20 L583.34 85.80 L585.94 88.40 L583.34 91.00 L580.74 88.40 L578.14 91.00 L575.54 88.40 L578.14 85.80 L575.54 83.20Z" fill="#fa8018"/><path d="M582.51 75.30 L585.11 77.90 L587.71 75.30 L590.31 77.90 L587.71 80.50 L590.31 83.10 L587.71 85.70 L585.11 83.10 L582.51 85.70 L579.91 83.10 L582.51 80.50 L579.91 77.90Z" fill="#fa8018"/><path d="M586.89 76.30 L589.49 78.90 L592.09 76.30 L594.69 78.90 L592.09 81.50 L594.69 84.10 L592.09 86.70 L589.49 84.10 L586.89 86.70 L584.29 84.10 L586.89 81.50 L584.29 78.90Z" fill="#fa8018"/><path d="M591.26 72.00 L593.86 74.60 L596.46 72.00 L599.06 74.60 L596.46 77.20 L599.06 79.80 L596.46 82.40 L593.86 79.80 L591.26 82.40 L588.66 79.80 L591.26 77.20 L588.66 74.60Z" fill="#fa8018"/><path d="M595.64 72.50 L598.24 75.10 L600.84 72.50 L603.44 75.10 L600.84 77.70 L603.44 80.30 L600.84 82.90 L598.24 80.30 L595.64 82.90 L593.04 80.30 L595.64 77.70 L593.04 75.10Z" fill="#fa8018"/><path d="M600.01 74.80 L602.61 77.40 L605.21 74.80 L607.81 77.40 L605.21 80.00 L607.81 82.60 L605.21 85.20 L602.61 82.60 L600.01 85.20 L597.41 82.60 L600.01 80.00 L597.41 77.40Z" fill="#fa8018"/><path d="M604.38 73.50 L606.98 76.10 L609.58 73.50 L612.18 76.10 L609.58 78.70 L612.18 81.30 L609.58 83.90 L606.98 81.30 L604.38 83.90 L601.78 81.30 L604.38 78.70 L601.78 76.10Z" fill="#fa8018"/><path d="M608.76 74.00 L611.36 76.60 L613.96 74.00 L616.56 76.60 L613.96 79.20 L616.56 81.80 L613.96 84.40 L611.36 81.80 L608.76 84.40 L606.16 81.80 L608.76 79.20 L606.16 76.60Z" fill="#fa8018"/><path d="M613.13 74.50 L615.73 77.10 L618.33 74.50 L620.93 77.10 L618.33 79.70 L620.93 82.30 L618.33 84.90 L615.73 82.30 L613.13 84.90 L610.53 82.30 L613.13 79.70 L610.53 77.10Z" fill="#fa8018"/><path d="M617.51 81.10 L620.11 83.70 L622.71 81.10 L625.31 83.70 L622.71 86.30 L625.31 88.90 L622.71 91.50 L620.11 88.90 L617.51 91.50 L614.91 88.90 L617.51 86.30 L614.91 83.70Z" fill="#fa8018"/><path d="M621.88 74.40 L624.48 77.00 L627.08 74.40 L629.68 77.00 L627.08 79.60 L629.68 82.20 L627.08 84.80 L624.48 82.20 L621.88 84.80 L619.28 82.20 L621.88 79.60 L619.28 77.00Z" fill="#fa8018"/><path d="M626.25 74.35 L628.85 76.95 L631.45 74.35 L634.05 76.95 L631.45 79.55 L634.05 82.15 L631.45 84.75 L628.85 82.15 L626.25 84.75 L623.65 82.15 L626.25 79.55 L623.65 76.95Z" fill="#fa8018"/><path d="M630.63 74.30 L633.23 76.90 L635.83 74.30 L638.43 76.90 L635.83 79.50 L638.43 82.10 L635.83 84.70 L633.23 82.10 L630.63 84.70 L628.03 82.10 L630.63 79.50 L628.03 76.90Z" fill="#fa8018"/><path d="M635.00 74.25 L637.60 76.85 L640.20 74.25 L642.80 76.85 L640.20 79.45 L642.80 82.05 L640.20 84.65 L637.60 82.05 L635.00 84.65 L632.40 82.05 L635.00 79.45 L632.40 76.85Z" fill="#fa8018"/><path d="M639.38 83.60 L641.98 86.20 L644.58 83.60 L647.18 86.20 L644.58 88.80 L647.18 91.40 L644.58 94.00 L641.98 91.40 L639.38 94.00 L636.78 91.40 L639.38 88.80 L636.78 86.20Z" fill="#fa8018"/><path d="M643.75 75.50 L646.35 78.10 L648.95 75.50 L651.55 78.10 L648.95 80.70 L651.55 83.30 L648.95 85.90 L646.35 83.30 L643.75 85.90 L641.15 83.30 L643.75 80.70 L641.15 78.10Z" fill="#fa8018"/><path d="M648.12 76.30 L650.72 78.90 L653.32 76.30 L655.92 78.90 L653.32 81.50 L655.92 84.10 L653.32 86.70 L650.72 84.10 L648.12 86.70 L645.52 84.10 L648.12 81.50 L645.52 78.90Z" fill="#fa8018"/><path d="M652.50 77.10 L655.10 79.70 L657.70 77.10 L660.30 79.70 L657.70 82.30 L660.30 84.90 L657.70 87.50 L655.10 84.90 L652.50 87.50 L649.90 84.90 L652.50 82.30 L649.90 79.70Z" fill="#fa8018"/><path d="M656.87 77.65 L659.47 80.25 L662.07 77.65 L664.67 80.25 L662.07 82.85 L664.67 85.45 L662.07 88.05 L659.47 85.45 L656.87 88.05 L654.27 85.45 L656.87 82.85 L654.27 80.25Z" fill="#fa8018"/><path d="M661.25 78.20 L663.85 80.80 L666.45 78.20 L669.05 80.80 L666.45 83.40 L669.05 86.00 L666.45 88.60 L663.85 86.00 L661.25 88.60 L658.65 86.00 L661.25 83.40 L658.65 80.80Z" fill="#fa8018"/><path d="M665.62 86.40 L668.22 89.00 L670.82 86.40 L673.42 89.00 L670.82 91.60 L673.42 94.20 L670.82 96.80 L668.22 94.20 L665.62 96.80 L663.02 94.20 L665.62 91.60 L663.02 89.00Z" fill="#fa8018"/><path d="M669.99 83.00 L672.59 85.60 L675.19 83.00 L677.79 85.60 L675.19 88.20 L677.79 90.80 L675.19 93.40 L672.59 90.80 L669.99 93.40 L667.39 90.80 L669.99 88.20 L667.39 85.60Z" fill="#fa8018"/><path d="M674.37 84.80 L676.97 87.40 L679.57 84.80 L682.17 87.40 L679.57 90.00 L682.17 92.60 L679.57 95.20 L676.97 92.60 L674.37 95.20 L671.77 92.60 L674.37 90.00 L671.77 87.40Z" fill="#fa8018"/><path d="M678.74 86.78 L681.34 89.38 L683.94 86.78 L686.54 89.38 L683.94 91.98 L686.54 94.58 L683.94 97.18 L681.34 94.58 L678.74 97.18 L676.14 94.58 L678.74 91.98 L676.14 89.38Z" fill="#fa8018"/><path d="M683.12 102.30 L685.72 104.90 L688.32 102.30 L690.92 104.90 L688.32 107.50 L690.92 110.10 L688.32 112.70 L685.72 110.10 L683.12 112.70 L680.52 110.10 L683.12 107.50 L680.52 104.90Z" fill="#fa8018"/><path d="M687.49 92.55 L690.09 95.15 L692.69 92.55 L695.29 95.15 L692.69 97.75 L695.29 100.35 L692.69 102.95 L690.09 100.35 L687.49 102.95 L684.89 100.35 L687.49 97.75 L684.89 95.15Z" fill="#fa8018"/><path d="M691.86 95.53 L694.46 98.13 L697.06 95.53 L699.66 98.13 L697.06 100.73 L699.66 103.33 L697.06 105.93 L694.46 103.33 L691.86 105.93 L689.26 103.33 L691.86 100.73 L689.26 98.13Z" fill="#fa8018"/><path d="M696.24 98.92 L698.84 101.52 L701.44 98.92 L704.04 101.52 L701.44 104.12 L704.04 106.72 L701.44 109.32 L698.84 106.72 L696.24 109.32 L693.64 106.72 L696.24 104.12 L693.64 101.52Z" fill="#fa8018"/><path d="M700.61 103.10 L703.21 105.70 L705.81 103.10 L708.41 105.70 L705.81 108.30 L708.41 110.90 L705.81 113.50 L703.21 110.90 L700.61 113.50 L698.01 110.90 L700.61 108.30 L698.01 105.70Z" fill="#fa8018"/><path d="M704.99 107.50 L707.59 110.10 L710.19 107.50 L712.79 110.10 L710.19 112.70 L712.79 115.30 L710.19 117.90 L707.59 115.30 L704.99 117.90 L702.39 115.30 L704.99 112.70 L702.39 110.10Z" fill="#fa8018"/><path d="M709.36 111.90 L711.96 114.50 L714.56 111.90 L717.16 114.50 L714.56 117.10 L717.16 119.70 L714.56 122.30 L711.96 119.70 L709.36 122.30 L706.76 119.70 L709.36 117.10 L706.76 114.50Z" fill="#fa8018"/><path d="M713.73 116.80 L716.33 119.40 L718.93 116.80 L721.53 119.40 L718.93 122.00 L721.53 124.60 L718.93 127.20 L716.33 124.60 L713.73 127.20 L711.13 124.60 L713.73 122.00 L711.13 119.40Z" fill="#fa8018"/><path d="M718.11 133.40 L720.71 136.00 L723.31 133.40 L725.91 136.00 L723.31 138.60 L725.91 141.20 L723.31 143.80 L720.71 141.20 L718.11 143.80 L715.51 141.20 L718.11 138.60 L715.51 136.00Z" fill="#fa8018"/><path d="M722.48 143.10 L725.08 145.70 L727.68 143.10 L730.28 145.70 L727.68 148.30 L730.28 150.90 L727.68 153.50 L725.08 150.90 L722.48 153.50 L719.88 150.90 L722.48 148.30 L719.88 145.70Z" fill="#fa8018"/><path d="M726.86 163.70 L729.46 166.30 L732.06 163.70 L734.66 166.30 L732.06 168.90 L734.66 171.50 L732.06 174.10 L729.46 171.50 L726.86 174.10 L724.26 171.50 L726.86 168.90 L724.26 166.30Z" fill="#fa8018"/><path d="M731.23 206.60 L733.83 209.20 L736.43 206.60 L739.03 209.20 L736.43 211.80 L739.03 214.40 L736.43 217.00 L733.83 214.40 L731.23 217.00 L728.63 214.40 L731.23 211.80 L728.63 209.20Z" fill="#fa8018"/><path d="M735.60 242.80 L738.20 245.40 L740.80 242.80 L743.40 245.40 L740.80 248.00 L743.40 250.60 L740.80 253.20 L738.20 250.60 L735.60 253.20 L733.00 250.60 L735.60 248.00 L733.00 245.40Z" fill="#fa8018"/><path d="M739.98 315.80 L742.58 318.40 L745.18 315.80 L747.78 318.40 L745.18 321.00 L747.78 323.60 L745.18 326.20 L742.58 323.60 L739.98 326.20 L737.38 323.60 L739.98 321.00 L737.38 318.40Z" fill="#1f77b4"/></g>
<line x1="67.6" y1="69.4" x2="775.0" y2="69.4" stroke="#3a3a3a" stroke-width="1.3" stroke-dasharray="5.47 2.37" stroke-dashoffset="0.64"/>
<rect x="67.6" y="34.0" width="707.40" height="300.90" fill="none" stroke="#1a1a1a" stroke-width="1.75"/>
<path d="M60.90 45.60H67.60 M60.90 94.40H67.60 M60.90 143.20H67.60 M60.90 192.00H67.60 M60.90 240.80H67.60 M60.90 289.60H67.60" stroke="#1a1a1a" stroke-width="1.45" fill="none"/>
<path d="M99.60 334.90V341.80 M103.97 334.90V341.80 M108.35 334.90V341.80 M112.72 334.90V341.80 M117.10 334.90V341.80 M121.47 334.90V341.80 M125.84 334.90V341.80 M130.22 334.90V341.80 M134.59 334.90V341.80 M138.97 334.90V341.80 M143.34 334.90V341.80 M147.71 334.90V341.80 M152.09 334.90V341.80 M156.46 334.90V341.80 M160.84 334.90V341.80 M165.21 334.90V341.80 M169.58 334.90V341.80 M173.96 334.90V341.80 M178.33 334.90V341.80 M182.71 334.90V341.80 M187.08 334.90V341.80 M191.45 334.90V341.80 M195.83 334.90V341.80 M200.20 334.90V341.80 M204.58 334.90V341.80 M208.95 334.90V341.80 M213.32 334.90V341.80 M217.70 334.90V341.80 M222.07 334.90V341.80 M226.45 334.90V341.80 M230.82 334.90V341.80 M235.19 334.90V341.80 M239.57 334.90V341.80 M243.94 334.90V341.80 M248.32 334.90V341.80 M252.69 334.90V341.80 M257.06 334.90V341.80 M261.44 334.90V341.80 M265.81 334.90V341.80 M270.19 334.90V341.80 M274.56 334.90V341.80 M278.93 334.90V341.80 M283.31 334.90V341.80 M287.68 334.90V341.80 M292.06 334.90V341.80 M296.43 334.90V341.80 M300.80 334.90V341.80 M305.18 334.90V341.80 M309.55 334.90V341.80 M313.93 334.90V341.80 M318.30 334.90V341.80 M322.67 334.90V341.80 M327.05 334.90V341.80 M331.42 334.90V341.80 M335.80 334.90V341.80 M340.17 334.90V341.80 M344.54 334.90V341.80 M348.92 334.90V341.80 M353.29 334.90V341.80 M357.67 334.90V341.80 M362.04 334.90V341.80 M366.41 334.90V341.80 M370.79 334.90V341.80 M375.16 334.90V341.80 M379.54 334.90V341.80 M383.91 334.90V341.80 M388.28 334.90V341.80 M392.66 334.90V341.80 M397.03 334.90V341.80 M401.41 334.90V341.80 M405.78 334.90V341.80 M410.15 334.90V341.80 M414.53 334.90V341.80 M418.90 334.90V341.80 M423.28 334.90V341.80 M427.65 334.90V341.80 M432.02 334.90V341.80 M436.40 334.90V341.80 M440.77 334.90V341.80 M445.15 334.90V341.80 M449.52 334.90V341.80 M453.89 334.90V341.80 M458.27 334.90V341.80 M462.64 334.90V341.80 M467.02 334.90V341.80 M471.39 334.90V341.80 M475.76 334.90V341.80 M480.14 334.90V341.80 M484.51 334.90V341.80 M488.89 334.90V341.80 M493.26 334.90V341.80 M497.63 334.90V341.80 M502.01 334.90V341.80 M506.38 334.90V341.80 M510.76 334.90V341.80 M515.13 334.90V341.80 M519.50 334.90V341.80 M523.88 334.90V341.80 M528.25 334.90V341.80 M532.63 334.90V341.80 M537.00 334.90V341.80 M541.37 334.90V341.80 M545.75 334.90V341.80 M550.12 334.90V341.80 M554.50 334.90V341.80 M558.87 334.90V341.80 M563.24 334.90V341.80 M567.62 334.90V341.80 M571.99 334.90V341.80 M576.37 334.90V341.80 M580.74 334.90V341.80 M585.11 334.90V341.80 M589.49 334.90V341.80 M593.86 334.90V341.80 M598.24 334.90V341.80 M602.61 334.90V341.80 M606.98 334.90V341.80 M611.36 334.90V341.80 M615.73 334.90V341.80 M620.11 334.90V341.80 M624.48 334.90V341.80 M628.85 334.90V341.80 M633.23 334.90V341.80 M637.60 334.90V341.80 M641.98 334.90V341.80 M646.35 334.90V341.80 M650.72 334.90V341.80 M655.10 334.90V341.80 M659.47 334.90V341.80 M663.85 334.90V341.80 M668.22 334.90V341.80 M672.59 334.90V341.80 M676.97 334.90V341.80 M681.34 334.90V341.80 M685.72 334.90V341.80 M690.09 334.90V341.80 M694.46 334.90V341.80 M698.84 334.90V341.80 M703.21 334.90V341.80 M707.59 334.90V341.80 M711.96 334.90V341.80 M716.33 334.90V341.80 M720.71 334.90V341.80 M725.08 334.90V341.80 M729.46 334.90V341.80 M733.83 334.90V341.80 M738.20 334.90V341.80 M742.58 334.90V341.80" stroke="#1a1a1a" stroke-width="1.8" fill="none"/>
<text transform="translate(25.43,52.90) scale(1.0700,1)" font-size="19.50" fill="#262626">1.0</text>
<text transform="translate(25.54,101.70) scale(1.0700,1)" font-size="19.50" fill="#262626">0.9</text>
<text transform="translate(25.43,150.50) scale(1.0700,1)" font-size="19.50" fill="#262626">0.8</text>
<text transform="translate(25.64,199.30) scale(1.0700,1)" font-size="19.50" fill="#262626">0.7</text>
<text transform="translate(25.54,248.10) scale(1.0700,1)" font-size="19.50" fill="#262626">0.6</text>
<text transform="translate(25.43,296.90) scale(1.0700,1)" font-size="19.50" fill="#262626">0.5</text>
<text transform="translate(15.10,210.67) rotate(-90) scale(1.1087,1)" font-size="19.00" fill="#262626">ratios</text>
<text transform="translate(371.09,368.60) scale(1.0805,1)" font-size="18.70" fill="#262626">core genes</text>
<text transform="translate(603.12,322.70) scale(1.0549,1)" font-size="17.40" fill="#000">148 genes</text>
<rect x="76.80" y="161.50" width="224.30" height="164.40" rx="3.3" fill="#fff" fill-opacity="0.8" stroke="#d4d4d4" stroke-width="1.2"/>
<text transform="translate(98.26,182.50) scale(1.0994,1)" font-size="18.80" fill="#262626">products</text>
<circle cx="101.90" cy="204.00" r="6.3" fill="#1f77b4"/>
<text transform="translate(133.44,209.10) scale(1.1160,1)" font-size="18.80" fill="#262626">ribosomal protein</text>
<circle cx="101.90" cy="230.60" r="6.3" fill="#fa8018"/>
<text transform="translate(133.96,235.70) scale(1.1110,1)" font-size="18.80" fill="#262626">others</text>
<text transform="translate(98.79,262.30) scale(1.1116,1)" font-size="18.80" fill="#262626">types</text>
<circle cx="101.90" cy="283.80" r="6.3" fill="#555"/>
<text transform="translate(133.96,288.90) scale(1.0997,1)" font-size="18.80" fill="#262626">presence ratio</text>
<path d="M98.75 304.10 L101.90 307.25 L105.05 304.10 L108.20 307.25 L105.05 310.40 L108.20 313.55 L105.05 316.70 L101.90 313.55 L98.75 316.70 L95.60 313.55 L98.75 310.40 L95.60 307.25Z" fill="#555"/>
<text transform="translate(134.68,315.50) scale(1.1074,1)" font-size="18.80" fill="#262626">single-copy ratio</text>
<text transform="translate(7.84,17.05) scale(0.8838,1)" font-size="24.00" fill="#000" stroke="#000" stroke-width="0.3">A</text>
<g stroke="#fff" stroke-width="0.9"><circle cx="101.60" cy="407.70" r="5.20" fill="#1f77b4"/><circle cx="109.24" cy="407.82" r="5.20" fill="#1f77b4"/><circle cx="116.89" cy="407.94" r="5.20" fill="#1f77b4"/><circle cx="124.53" cy="408.06" r="5.20" fill="#1f77b4"/><circle cx="132.18" cy="408.18" r="5.20" fill="#1f77b4"/><circle cx="139.82" cy="408.30" r="5.20" fill="#1f77b4"/><circle cx="147.47" cy="408.42" r="5.20" fill="#1f77b4"/><circle cx="155.12" cy="408.54" r="5.20" fill="#1f77b4"/><circle cx="162.76" cy="408.66" r="5.20" fill="#1f77b4"/><circle cx="170.40" cy="408.78" r="5.20" fill="#1f77b4"/><circle cx="178.05" cy="408.90" r="5.20" fill="#1f77b4"/><circle cx="185.69" cy="409.09" r="5.20" fill="#1f77b4"/><circle cx="193.34" cy="409.27" r="5.20" fill="#1f77b4"/><circle cx="200.98" cy="409.46" r="5.20" fill="#1f77b4"/><circle cx="208.63" cy="409.65" r="5.20" fill="#1f77b4"/><circle cx="216.27" cy="409.84" r="5.20" fill="#1f77b4"/><circle cx="223.92" cy="410.02" r="5.20" fill="#1f77b4"/><circle cx="231.56" cy="410.21" r="5.20" fill="#1f77b4"/><circle cx="239.21" cy="410.40" r="5.20" fill="#1f77b4"/><circle cx="246.85" cy="410.52" r="5.20" fill="#1f77b4"/><circle cx="254.50" cy="410.65" r="5.20" fill="#1f77b4"/><circle cx="262.14" cy="410.77" r="5.20" fill="#1f77b4"/><circle cx="269.79" cy="407.70" r="5.20" fill="#fa8018"/><circle cx="277.43" cy="410.97" r="5.20" fill="#1f77b4"/><circle cx="285.08" cy="411.04" r="5.20" fill="#1f77b4"/><circle cx="292.73" cy="411.11" r="5.20" fill="#1f77b4"/><circle cx="300.37" cy="411.19" r="5.20" fill="#1f77b4"/><circle cx="308.01" cy="409.00" r="5.20" fill="#fa8018"/><circle cx="315.66" cy="411.33" r="5.20" fill="#1f77b4"/><circle cx="323.30" cy="411.40" r="5.20" fill="#1f77b4"/><circle cx="330.95" cy="410.00" r="5.20" fill="#1f77b4"/><circle cx="338.59" cy="410.00" r="5.20" fill="#fa8018"/><circle cx="346.24" cy="411.77" r="5.20" fill="#1f77b4"/><circle cx="353.88" cy="411.90" r="5.20" fill="#1f77b4"/><circle cx="361.53" cy="412.11" r="5.20" fill="#1f77b4"/><circle cx="369.17" cy="410.80" r="5.20" fill="#fa8018"/><circle cx="376.82" cy="412.54" r="5.20" fill="#fa8018"/><circle cx="384.47" cy="412.76" r="5.20" fill="#1f77b4"/><circle cx="392.11" cy="412.97" r="5.20" fill="#1f77b4"/><circle cx="399.75" cy="412.60" r="5.20" fill="#fa8018"/><circle cx="407.40" cy="413.40" r="5.20" fill="#1f77b4"/><circle cx="415.04" cy="413.70" r="5.20" fill="#1f77b4"/><circle cx="422.69" cy="412.60" r="5.20" fill="#fa8018"/><circle cx="430.33" cy="412.60" r="5.20" fill="#fa8018"/><circle cx="437.98" cy="414.60" r="5.20" fill="#fa8018"/><circle cx="445.62" cy="414.90" r="5.20" fill="#1f77b4"/><circle cx="453.27" cy="415.40" r="5.20" fill="#fa8018"/><circle cx="460.91" cy="415.90" r="5.20" fill="#1f77b4"/><circle cx="468.56" cy="416.40" r="5.20" fill="#1f77b4"/><circle cx="476.20" cy="416.90" r="5.20" fill="#fa8018"/><circle cx="483.85" cy="417.40" r="5.20" fill="#fa8018"/><circle cx="491.50" cy="417.52" r="5.20" fill="#fa8018"/><circle cx="499.14" cy="415.50" r="5.20" fill="#fa8018"/><circle cx="506.78" cy="415.50" r="5.20" fill="#fa8018"/><circle cx="514.43" cy="415.50" r="5.20" fill="#fa8018"/><circle cx="522.07" cy="418.00" r="5.20" fill="#fa8018"/><circle cx="529.72" cy="415.50" r="5.20" fill="#fa8018"/><circle cx="537.37" cy="418.52" r="5.20" fill="#fa8018"/><circle cx="545.01" cy="418.78" r="5.20" fill="#fa8018"/><circle cx="552.65" cy="419.04" r="5.20" fill="#fa8018"/><circle cx="560.30" cy="419.30" r="5.20" fill="#fa8018"/><circle cx="567.94" cy="419.35" r="5.20" fill="#fa8018"/><circle cx="575.59" cy="419.40" r="5.20" fill="#1f77b4"/><circle cx="583.24" cy="416.90" r="5.20" fill="#fa8018"/><circle cx="590.88" cy="419.50" r="5.20" fill="#1f77b4"/><circle cx="598.52" cy="417.40" r="5.20" fill="#fa8018"/><circle cx="606.17" cy="419.97" r="5.20" fill="#1f77b4"/><circle cx="613.81" cy="420.20" r="5.20" fill="#fa8018"/><circle cx="621.46" cy="419.00" r="5.20" fill="#fa8018"/><circle cx="629.11" cy="420.67" r="5.20" fill="#fa8018"/><circle cx="636.75" cy="420.00" r="5.20" fill="#fa8018"/><circle cx="644.39" cy="421.65" r="5.20" fill="#1f77b4"/><circle cx="652.04" cy="422.40" r="5.20" fill="#fa8018"/><circle cx="659.68" cy="423.07" r="5.20" fill="#fa8018"/><circle cx="667.33" cy="423.73" r="5.20" fill="#fa8018"/><circle cx="674.98" cy="424.40" r="5.20" fill="#fa8018"/><circle cx="682.62" cy="424.77" r="5.20" fill="#fa8018"/><circle cx="690.26" cy="425.13" r="5.20" fill="#fa8018"/><circle cx="697.91" cy="425.50" r="5.20" fill="#fa8018"/><circle cx="705.55" cy="426.00" r="5.20" fill="#fa8018"/><circle cx="713.20" cy="426.50" r="5.20" fill="#fa8018"/><circle cx="720.85" cy="427.12" r="5.20" fill="#fa8018"/><circle cx="728.49" cy="427.75" r="5.20" fill="#fa8018"/><circle cx="736.13" cy="428.38" r="5.20" fill="#fa8018"/><circle cx="743.78" cy="429.00" r="5.20" fill="#fa8018"/><path d="M99.00 402.60 L101.60 405.20 L104.20 402.60 L106.80 405.20 L104.20 407.80 L106.80 410.40 L104.20 413.00 L101.60 410.40 L99.00 413.00 L96.40 410.40 L99.00 407.80 L96.40 405.20Z" fill="#1f77b4"/><path d="M106.64 402.72 L109.24 405.32 L111.84 402.72 L114.44 405.32 L111.84 407.92 L114.44 410.52 L111.84 413.12 L109.24 410.52 L106.64 413.12 L104.04 410.52 L106.64 407.92 L104.04 405.32Z" fill="#1f77b4"/><path d="M114.29 402.84 L116.89 405.44 L119.49 402.84 L122.09 405.44 L119.49 408.04 L122.09 410.64 L119.49 413.24 L116.89 410.64 L114.29 413.24 L111.69 410.64 L114.29 408.04 L111.69 405.44Z" fill="#1f77b4"/><path d="M121.94 402.96 L124.53 405.56 L127.13 402.96 L129.73 405.56 L127.13 408.16 L129.73 410.76 L127.13 413.36 L124.53 410.76 L121.94 413.36 L119.33 410.76 L121.94 408.16 L119.33 405.56Z" fill="#1f77b4"/><path d="M129.58 403.08 L132.18 405.68 L134.78 403.08 L137.38 405.68 L134.78 408.28 L137.38 410.88 L134.78 413.48 L132.18 410.88 L129.58 413.48 L126.98 410.88 L129.58 408.28 L126.98 405.68Z" fill="#1f77b4"/><path d="M137.22 403.20 L139.82 405.80 L142.42 403.20 L145.02 405.80 L142.42 408.40 L145.02 411.00 L142.42 413.60 L139.82 411.00 L137.22 413.60 L134.62 411.00 L137.22 408.40 L134.62 405.80Z" fill="#1f77b4"/><path d="M144.87 403.32 L147.47 405.92 L150.07 403.32 L152.67 405.92 L150.07 408.52 L152.67 411.12 L150.07 413.72 L147.47 411.12 L144.87 413.72 L142.27 411.12 L144.87 408.52 L142.27 405.92Z" fill="#1f77b4"/><path d="M152.52 403.44 L155.12 406.04 L157.72 403.44 L160.31 406.04 L157.72 408.64 L160.31 411.24 L157.72 413.84 L155.12 411.24 L152.52 413.84 L149.92 411.24 L152.52 408.64 L149.92 406.04Z" fill="#1f77b4"/><path d="M160.16 403.56 L162.76 406.16 L165.36 403.56 L167.96 406.16 L165.36 408.76 L167.96 411.36 L165.36 413.96 L162.76 411.36 L160.16 413.96 L157.56 411.36 L160.16 408.76 L157.56 406.16Z" fill="#1f77b4"/><path d="M167.80 403.68 L170.40 406.28 L173.00 403.68 L175.60 406.28 L173.00 408.88 L175.60 411.48 L173.00 414.08 L170.40 411.48 L167.80 414.08 L165.20 411.48 L167.80 408.88 L165.20 406.28Z" fill="#1f77b4"/><path d="M175.45 403.80 L178.05 406.40 L180.65 403.80 L183.25 406.40 L180.65 409.00 L183.25 411.60 L180.65 414.20 L178.05 411.60 L175.45 414.20 L172.85 411.60 L175.45 409.00 L172.85 406.40Z" fill="#1f77b4"/><path d="M183.09 403.99 L185.69 406.59 L188.29 403.99 L190.89 406.59 L188.29 409.19 L190.89 411.79 L188.29 414.39 L185.69 411.79 L183.09 414.39 L180.50 411.79 L183.09 409.19 L180.50 406.59Z" fill="#1f77b4"/><path d="M190.74 404.18 L193.34 406.77 L195.94 404.18 L198.54 406.77 L195.94 409.38 L198.54 411.98 L195.94 414.57 L193.34 411.98 L190.74 414.57 L188.14 411.98 L190.74 409.38 L188.14 406.77Z" fill="#1f77b4"/><path d="M198.38 404.36 L200.98 406.96 L203.58 404.36 L206.18 406.96 L203.58 409.56 L206.18 412.16 L203.58 414.76 L200.98 412.16 L198.38 414.76 L195.78 412.16 L198.38 409.56 L195.78 406.96Z" fill="#1f77b4"/><path d="M206.03 404.55 L208.63 407.15 L211.23 404.55 L213.83 407.15 L211.23 409.75 L213.83 412.35 L211.23 414.95 L208.63 412.35 L206.03 414.95 L203.43 412.35 L206.03 409.75 L203.43 407.15Z" fill="#1f77b4"/><path d="M213.67 404.74 L216.27 407.34 L218.87 404.74 L221.47 407.34 L218.87 409.94 L221.47 412.54 L218.87 415.14 L216.27 412.54 L213.67 415.14 L211.07 412.54 L213.67 409.94 L211.07 407.34Z" fill="#1f77b4"/><path d="M221.32 404.93 L223.92 407.52 L226.52 404.93 L229.12 407.52 L226.52 410.12 L229.12 412.73 L226.52 415.32 L223.92 412.73 L221.32 415.32 L218.72 412.73 L221.32 410.12 L218.72 407.52Z" fill="#1f77b4"/><path d="M228.97 405.11 L231.56 407.71 L234.16 405.11 L236.76 407.71 L234.16 410.31 L236.76 412.91 L234.16 415.51 L231.56 412.91 L228.97 415.51 L226.37 412.91 L228.97 410.31 L226.37 407.71Z" fill="#1f77b4"/><path d="M236.61 405.30 L239.21 407.90 L241.81 405.30 L244.41 407.90 L241.81 410.50 L244.41 413.10 L241.81 415.70 L239.21 413.10 L236.61 415.70 L234.01 413.10 L236.61 410.50 L234.01 407.90Z" fill="#1f77b4"/><path d="M244.25 405.43 L246.85 408.02 L249.45 405.43 L252.05 408.02 L249.45 410.62 L252.05 413.23 L249.45 415.82 L246.85 413.23 L244.25 415.82 L241.66 413.23 L244.25 410.62 L241.66 408.02Z" fill="#1f77b4"/><path d="M251.90 405.55 L254.50 408.15 L257.10 405.55 L259.70 408.15 L257.10 410.75 L259.70 413.35 L257.10 415.95 L254.50 413.35 L251.90 415.95 L249.30 413.35 L251.90 410.75 L249.30 408.15Z" fill="#1f77b4"/><path d="M259.54 405.68 L262.14 408.27 L264.75 405.68 L267.34 408.27 L264.75 410.88 L267.34 413.48 L264.75 416.07 L262.14 413.48 L259.54 416.07 L256.94 413.48 L259.54 410.88 L256.94 408.27Z" fill="#1f77b4"/><path d="M267.19 409.50 L269.79 412.10 L272.39 409.50 L274.99 412.10 L272.39 414.70 L274.99 417.30 L272.39 419.90 L269.79 417.30 L267.19 419.90 L264.59 417.30 L267.19 414.70 L264.59 412.10Z" fill="#fa8018"/><path d="M274.83 405.87 L277.43 408.47 L280.03 405.87 L282.63 408.47 L280.03 411.07 L282.63 413.67 L280.03 416.27 L277.43 413.67 L274.83 416.27 L272.23 413.67 L274.83 411.07 L272.23 408.47Z" fill="#1f77b4"/><path d="M282.48 405.94 L285.08 408.54 L287.68 405.94 L290.28 408.54 L287.68 411.14 L290.28 413.74 L287.68 416.34 L285.08 413.74 L282.48 416.34 L279.88 413.74 L282.48 411.14 L279.88 408.54Z" fill="#1f77b4"/><path d="M290.12 406.01 L292.73 408.61 L295.33 406.01 L297.93 408.61 L295.33 411.21 L297.93 413.81 L295.33 416.41 L292.73 413.81 L290.12 416.41 L287.53 413.81 L290.12 411.21 L287.53 408.61Z" fill="#1f77b4"/><path d="M297.77 406.09 L300.37 408.69 L302.97 406.09 L305.57 408.69 L302.97 411.29 L305.57 413.89 L302.97 416.49 L300.37 413.89 L297.77 416.49 L295.17 413.89 L297.77 411.29 L295.17 408.69Z" fill="#1f77b4"/><path d="M305.41 407.60 L308.01 410.20 L310.62 407.60 L313.21 410.20 L310.62 412.80 L313.21 415.40 L310.62 418.00 L308.01 415.40 L305.41 418.00 L302.81 415.40 L305.41 412.80 L302.81 410.20Z" fill="#fa8018"/><path d="M313.06 406.23 L315.66 408.83 L318.26 406.23 L320.86 408.83 L318.26 411.43 L320.86 414.03 L318.26 416.63 L315.66 414.03 L313.06 416.63 L310.46 414.03 L313.06 411.43 L310.46 408.83Z" fill="#1f77b4"/><path d="M320.70 406.30 L323.30 408.90 L325.90 406.30 L328.50 408.90 L325.90 411.50 L328.50 414.10 L325.90 416.70 L323.30 414.10 L320.70 416.70 L318.10 414.10 L320.70 411.50 L318.10 408.90Z" fill="#1f77b4"/><path d="M328.35 420.90 L330.95 423.50 L333.55 420.90 L336.15 423.50 L333.55 426.10 L336.15 428.70 L333.55 431.30 L330.95 428.70 L328.35 431.30 L325.75 428.70 L328.35 426.10 L325.75 423.50Z" fill="#1f77b4"/><path d="M335.99 410.10 L338.59 412.70 L341.19 410.10 L343.79 412.70 L341.19 415.30 L343.79 417.90 L341.19 420.50 L338.59 417.90 L335.99 420.50 L333.39 417.90 L335.99 415.30 L333.39 412.70Z" fill="#fa8018"/><path d="M343.64 406.68 L346.24 409.27 L348.84 406.68 L351.44 409.27 L348.84 411.88 L351.44 414.48 L348.84 417.07 L346.24 414.48 L343.64 417.07 L341.04 414.48 L343.64 411.88 L341.04 409.27Z" fill="#1f77b4"/><path d="M351.28 406.80 L353.88 409.40 L356.49 406.80 L359.08 409.40 L356.49 412.00 L359.08 414.60 L356.49 417.20 L353.88 414.60 L351.28 417.20 L348.69 414.60 L351.28 412.00 L348.69 409.40Z" fill="#1f77b4"/><path d="M358.93 407.01 L361.53 409.61 L364.13 407.01 L366.73 409.61 L364.13 412.21 L366.73 414.81 L364.13 417.41 L361.53 414.81 L358.93 417.41 L356.33 414.81 L358.93 412.21 L356.33 409.61Z" fill="#1f77b4"/><path d="M366.57 411.40 L369.17 414.00 L371.77 411.40 L374.37 414.00 L371.77 416.60 L374.37 419.20 L371.77 421.80 L369.17 419.20 L366.57 421.80 L363.97 419.20 L366.57 416.60 L363.97 414.00Z" fill="#fa8018"/><path d="M374.22 407.44 L376.82 410.04 L379.42 407.44 L382.02 410.04 L379.42 412.64 L382.02 415.24 L379.42 417.84 L376.82 415.24 L374.22 417.84 L371.62 415.24 L374.22 412.64 L371.62 410.04Z" fill="#fa8018"/><path d="M381.87 407.66 L384.47 410.26 L387.07 407.66 L389.67 410.26 L387.07 412.86 L389.67 415.46 L387.07 418.06 L384.47 415.46 L381.87 418.06 L379.27 415.46 L381.87 412.86 L379.27 410.26Z" fill="#1f77b4"/><path d="M389.51 407.87 L392.11 410.47 L394.71 407.87 L397.31 410.47 L394.71 413.07 L397.31 415.67 L394.71 418.27 L392.11 415.67 L389.51 418.27 L386.91 415.67 L389.51 413.07 L386.91 410.47Z" fill="#1f77b4"/><path d="M397.15 420.90 L399.75 423.50 L402.36 420.90 L404.95 423.50 L402.36 426.10 L404.95 428.70 L402.36 431.30 L399.75 428.70 L397.15 431.30 L394.56 428.70 L397.15 426.10 L394.56 423.50Z" fill="#fa8018"/><path d="M404.80 408.30 L407.40 410.90 L410.00 408.30 L412.60 410.90 L410.00 413.50 L412.60 416.10 L410.00 418.70 L407.40 416.10 L404.80 418.70 L402.20 416.10 L404.80 413.50 L402.20 410.90Z" fill="#1f77b4"/><path d="M412.44 408.60 L415.04 411.20 L417.64 408.60 L420.24 411.20 L417.64 413.80 L420.24 416.40 L417.64 419.00 L415.04 416.40 L412.44 419.00 L409.84 416.40 L412.44 413.80 L409.84 411.20Z" fill="#1f77b4"/><path d="M420.09 416.40 L422.69 419.00 L425.29 416.40 L427.89 419.00 L425.29 421.60 L427.89 424.20 L425.29 426.80 L422.69 424.20 L420.09 426.80 L417.49 424.20 L420.09 421.60 L417.49 419.00Z" fill="#fa8018"/><path d="M427.73 421.80 L430.33 424.40 L432.93 421.80 L435.53 424.40 L432.93 427.00 L435.53 429.60 L432.93 432.20 L430.33 429.60 L427.73 432.20 L425.13 429.60 L427.73 427.00 L425.13 424.40Z" fill="#fa8018"/><path d="M435.38 409.50 L437.98 412.10 L440.58 409.50 L443.18 412.10 L440.58 414.70 L443.18 417.30 L440.58 419.90 L437.98 417.30 L435.38 419.90 L432.78 417.30 L435.38 414.70 L432.78 412.10Z" fill="#fa8018"/><path d="M443.02 409.80 L445.62 412.40 L448.23 409.80 L450.82 412.40 L448.23 415.00 L450.82 417.60 L448.23 420.20 L445.62 417.60 L443.02 420.20 L440.43 417.60 L443.02 415.00 L440.43 412.40Z" fill="#1f77b4"/><path d="M450.67 410.30 L453.27 412.90 L455.87 410.30 L458.47 412.90 L455.87 415.50 L458.47 418.10 L455.87 420.70 L453.27 418.10 L450.67 420.70 L448.07 418.10 L450.67 415.50 L448.07 412.90Z" fill="#fa8018"/><path d="M458.31 410.80 L460.91 413.40 L463.51 410.80 L466.11 413.40 L463.51 416.00 L466.11 418.60 L463.51 421.20 L460.91 418.60 L458.31 421.20 L455.71 418.60 L458.31 416.00 L455.71 413.40Z" fill="#1f77b4"/><path d="M465.96 411.30 L468.56 413.90 L471.16 411.30 L473.76 413.90 L471.16 416.50 L473.76 419.10 L471.16 421.70 L468.56 419.10 L465.96 421.70 L463.36 419.10 L465.96 416.50 L463.36 413.90Z" fill="#1f77b4"/><path d="M473.60 411.80 L476.20 414.40 L478.80 411.80 L481.40 414.40 L478.80 417.00 L481.40 419.60 L478.80 422.20 L476.20 419.60 L473.60 422.20 L471.00 419.60 L473.60 417.00 L471.00 414.40Z" fill="#fa8018"/><path d="M481.25 412.30 L483.85 414.90 L486.45 412.30 L489.05 414.90 L486.45 417.50 L489.05 420.10 L486.45 422.70 L483.85 420.10 L481.25 422.70 L478.65 420.10 L481.25 417.50 L478.65 414.90Z" fill="#fa8018"/><path d="M488.89 412.42 L491.50 415.02 L494.10 412.42 L496.69 415.02 L494.10 417.62 L496.69 420.22 L494.10 422.82 L491.50 420.22 L488.89 422.82 L486.30 420.22 L488.89 417.62 L486.30 415.02Z" fill="#fa8018"/><path d="M496.54 420.00 L499.14 422.60 L501.74 420.00 L504.34 422.60 L501.74 425.20 L504.34 427.80 L501.74 430.40 L499.14 427.80 L496.54 430.40 L493.94 427.80 L496.54 425.20 L493.94 422.60Z" fill="#fa8018"/><path d="M504.18 423.80 L506.78 426.40 L509.38 423.80 L511.98 426.40 L509.38 429.00 L511.98 431.60 L509.38 434.20 L506.78 431.60 L504.18 434.20 L501.58 431.60 L504.18 429.00 L501.58 426.40Z" fill="#fa8018"/><path d="M511.83 417.10 L514.43 419.70 L517.03 417.10 L519.63 419.70 L517.03 422.30 L519.63 424.90 L517.03 427.50 L514.43 424.90 L511.83 427.50 L509.23 424.90 L511.83 422.30 L509.23 419.70Z" fill="#fa8018"/><path d="M519.47 412.90 L522.07 415.50 L524.67 412.90 L527.27 415.50 L524.67 418.10 L527.27 420.70 L524.67 423.30 L522.07 420.70 L519.47 423.30 L516.87 420.70 L519.47 418.10 L516.87 415.50Z" fill="#fa8018"/><path d="M527.12 420.00 L529.72 422.60 L532.32 420.00 L534.92 422.60 L532.32 425.20 L534.92 427.80 L532.32 430.40 L529.72 427.80 L527.12 430.40 L524.52 427.80 L527.12 425.20 L524.52 422.60Z" fill="#fa8018"/><path d="M534.76 413.42 L537.37 416.02 L539.97 413.42 L542.57 416.02 L539.97 418.62 L542.57 421.22 L539.97 423.82 L537.37 421.22 L534.76 423.82 L532.16 421.22 L534.76 418.62 L532.16 416.02Z" fill="#fa8018"/><path d="M542.41 413.68 L545.01 416.28 L547.61 413.68 L550.21 416.28 L547.61 418.88 L550.21 421.48 L547.61 424.08 L545.01 421.48 L542.41 424.08 L539.81 421.48 L542.41 418.88 L539.81 416.28Z" fill="#fa8018"/><path d="M550.05 413.94 L552.65 416.54 L555.25 413.94 L557.86 416.54 L555.25 419.14 L557.86 421.74 L555.25 424.34 L552.65 421.74 L550.05 424.34 L547.45 421.74 L550.05 419.14 L547.45 416.54Z" fill="#fa8018"/><path d="M557.70 414.20 L560.30 416.80 L562.90 414.20 L565.50 416.80 L562.90 419.40 L565.50 422.00 L562.90 424.60 L560.30 422.00 L557.70 424.60 L555.10 422.00 L557.70 419.40 L555.10 416.80Z" fill="#fa8018"/><path d="M565.34 414.25 L567.94 416.85 L570.54 414.25 L573.14 416.85 L570.54 419.45 L573.14 422.05 L570.54 424.65 L567.94 422.05 L565.34 424.65 L562.74 422.05 L565.34 419.45 L562.74 416.85Z" fill="#fa8018"/><path d="M572.99 414.30 L575.59 416.90 L578.19 414.30 L580.79 416.90 L578.19 419.50 L580.79 422.10 L578.19 424.70 L575.59 422.10 L572.99 424.70 L570.39 422.10 L572.99 419.50 L570.39 416.90Z" fill="#1f77b4"/><path d="M580.63 418.00 L583.24 420.60 L585.84 418.00 L588.44 420.60 L585.84 423.20 L588.44 425.80 L585.84 428.40 L583.24 425.80 L580.63 428.40 L578.03 425.80 L580.63 423.20 L578.03 420.60Z" fill="#fa8018"/><path d="M588.28 414.40 L590.88 417.00 L593.48 414.40 L596.08 417.00 L593.48 419.60 L596.08 422.20 L593.48 424.80 L590.88 422.20 L588.28 424.80 L585.68 422.20 L588.28 419.60 L585.68 417.00Z" fill="#1f77b4"/><path d="M595.92 418.30 L598.52 420.90 L601.12 418.30 L603.73 420.90 L601.12 423.50 L603.73 426.10 L601.12 428.70 L598.52 426.10 L595.92 428.70 L593.32 426.10 L595.92 423.50 L593.32 420.90Z" fill="#fa8018"/><path d="M603.57 414.87 L606.17 417.47 L608.77 414.87 L611.37 417.47 L608.77 420.07 L611.37 422.67 L608.77 425.27 L606.17 422.67 L603.57 425.27 L600.97 422.67 L603.57 420.07 L600.97 417.47Z" fill="#1f77b4"/><path d="M611.21 415.10 L613.81 417.70 L616.41 415.10 L619.01 417.70 L616.41 420.30 L619.01 422.90 L616.41 425.50 L613.81 422.90 L611.21 425.50 L608.61 422.90 L611.21 420.30 L608.61 417.70Z" fill="#fa8018"/><path d="M618.86 421.40 L621.46 424.00 L624.06 421.40 L626.66 424.00 L624.06 426.60 L626.66 429.20 L624.06 431.80 L621.46 429.20 L618.86 431.80 L616.26 429.20 L618.86 426.60 L616.26 424.00Z" fill="#fa8018"/><path d="M626.50 415.57 L629.11 418.17 L631.71 415.57 L634.31 418.17 L631.71 420.77 L634.31 423.37 L631.71 425.97 L629.11 423.37 L626.50 425.97 L623.90 423.37 L626.50 420.77 L623.90 418.17Z" fill="#fa8018"/><path d="M634.15 419.40 L636.75 422.00 L639.35 419.40 L641.95 422.00 L639.35 424.60 L641.95 427.20 L639.35 429.80 L636.75 427.20 L634.15 429.80 L631.55 427.20 L634.15 424.60 L631.55 422.00Z" fill="#fa8018"/><path d="M641.79 416.55 L644.39 419.15 L647.00 416.55 L649.60 419.15 L647.00 421.75 L649.60 424.35 L647.00 426.95 L644.39 424.35 L641.79 426.95 L639.19 424.35 L641.79 421.75 L639.19 419.15Z" fill="#1f77b4"/><path d="M649.44 417.30 L652.04 419.90 L654.64 417.30 L657.24 419.90 L654.64 422.50 L657.24 425.10 L654.64 427.70 L652.04 425.10 L649.44 427.70 L646.84 425.10 L649.44 422.50 L646.84 419.90Z" fill="#fa8018"/><path d="M657.08 417.97 L659.68 420.57 L662.28 417.97 L664.88 420.57 L662.28 423.17 L664.88 425.77 L662.28 428.37 L659.68 425.77 L657.08 428.37 L654.48 425.77 L657.08 423.17 L654.48 420.57Z" fill="#fa8018"/><path d="M664.73 418.63 L667.33 421.23 L669.93 418.63 L672.53 421.23 L669.93 423.83 L672.53 426.43 L669.93 429.03 L667.33 426.43 L664.73 429.03 L662.13 426.43 L664.73 423.83 L662.13 421.23Z" fill="#fa8018"/><path d="M672.38 419.30 L674.98 421.90 L677.58 419.30 L680.18 421.90 L677.58 424.50 L680.18 427.10 L677.58 429.70 L674.98 427.10 L672.38 429.70 L669.77 427.10 L672.38 424.50 L669.77 421.90Z" fill="#fa8018"/><path d="M680.02 419.67 L682.62 422.27 L685.22 419.67 L687.82 422.27 L685.22 424.87 L687.82 427.47 L685.22 430.07 L682.62 427.47 L680.02 430.07 L677.42 427.47 L680.02 424.87 L677.42 422.27Z" fill="#fa8018"/><path d="M687.66 420.03 L690.26 422.63 L692.87 420.03 L695.47 422.63 L692.87 425.23 L695.47 427.83 L692.87 430.43 L690.26 427.83 L687.66 430.43 L685.06 427.83 L687.66 425.23 L685.06 422.63Z" fill="#fa8018"/><path d="M695.31 420.40 L697.91 423.00 L700.51 420.40 L703.11 423.00 L700.51 425.60 L703.11 428.20 L700.51 430.80 L697.91 428.20 L695.31 430.80 L692.71 428.20 L695.31 425.60 L692.71 423.00Z" fill="#fa8018"/><path d="M702.95 420.90 L705.55 423.50 L708.15 420.90 L710.75 423.50 L708.15 426.10 L710.75 428.70 L708.15 431.30 L705.55 428.70 L702.95 431.30 L700.35 428.70 L702.95 426.10 L700.35 423.50Z" fill="#fa8018"/><path d="M710.60 421.40 L713.20 424.00 L715.80 421.40 L718.40 424.00 L715.80 426.60 L718.40 429.20 L715.80 431.80 L713.20 429.20 L710.60 431.80 L708.00 429.20 L710.60 426.60 L708.00 424.00Z" fill="#fa8018"/><path d="M718.25 422.03 L720.85 424.62 L723.45 422.03 L726.05 424.62 L723.45 427.23 L726.05 429.83 L723.45 432.43 L720.85 429.83 L718.25 432.43 L715.64 429.83 L718.25 427.23 L715.64 424.62Z" fill="#fa8018"/><path d="M725.89 422.65 L728.49 425.25 L731.09 422.65 L733.69 425.25 L731.09 427.85 L733.69 430.45 L731.09 433.05 L728.49 430.45 L725.89 433.05 L723.29 430.45 L725.89 427.85 L723.29 425.25Z" fill="#fa8018"/><path d="M733.53 423.28 L736.13 425.88 L738.74 423.28 L741.34 425.88 L738.74 428.48 L741.34 431.08 L738.74 433.68 L736.13 431.08 L733.53 433.68 L730.93 431.08 L733.53 428.48 L730.93 425.88Z" fill="#fa8018"/><path d="M741.18 423.90 L743.78 426.50 L746.38 423.90 L748.98 426.50 L746.38 429.10 L748.98 431.70 L746.38 434.30 L743.78 431.70 L741.18 434.30 L738.58 431.70 L741.18 429.10 L738.58 426.50Z" fill="#fa8018"/></g>
<rect x="69.5" y="395.7" width="706.20" height="299.90" fill="none" stroke="#000" stroke-width="1.9"/>
<path d="M62.80 405.00H69.50 M62.80 453.45H69.50 M62.80 501.90H69.50 M62.80 550.35H69.50 M62.80 598.80H69.50 M62.80 647.25H69.50 M62.80 695.70H69.50" stroke="#000" stroke-width="1.45" fill="none"/>
<path d="M101.60 695.60V702.50 M109.24 695.60V702.50 M116.89 695.60V702.50 M124.53 695.60V702.50 M132.18 695.60V702.50 M139.82 695.60V702.50 M147.47 695.60V702.50 M155.12 695.60V702.50 M162.76 695.60V702.50 M170.40 695.60V702.50 M178.05 695.60V702.50 M185.69 695.60V702.50 M193.34 695.60V702.50 M200.98 695.60V702.50 M208.63 695.60V702.50 M216.27 695.60V702.50 M223.92 695.60V702.50 M231.56 695.60V702.50 M239.21 695.60V702.50 M246.85 695.60V702.50 M254.50 695.60V702.50 M262.14 695.60V702.50 M269.79 695.60V702.50 M277.43 695.60V702.50 M285.08 695.60V702.50 M292.73 695.60V702.50 M300.37 695.60V702.50 M308.01 695.60V702.50 M315.66 695.60V702.50 M323.30 695.60V702.50 M330.95 695.60V702.50 M338.59 695.60V702.50 M346.24 695.60V702.50 M353.88 695.60V702.50 M361.53 695.60V702.50 M369.17 695.60V702.50 M376.82 695.60V702.50 M384.47 695.60V702.50 M392.11 695.60V702.50 M399.75 695.60V702.50 M407.40 695.60V702.50 M415.04 695.60V702.50 M422.69 695.60V702.50 M430.33 695.60V702.50 M437.98 695.60V702.50 M445.62 695.60V702.50 M453.27 695.60V702.50 M460.91 695.60V702.50 M468.56 695.60V702.50 M476.20 695.60V702.50 M483.85 695.60V702.50 M491.50 695.60V702.50 M499.14 695.60V702.50 M506.78 695.60V702.50 M514.43 695.60V702.50 M522.07 695.60V702.50 M529.72 695.60V702.50 M537.37 695.60V702.50 M545.01 695.60V702.50 M552.65 695.60V702.50 M560.30 695.60V702.50 M567.94 695.60V702.50 M575.59 695.60V702.50 M583.24 695.60V702.50 M590.88 695.60V702.50 M598.52 695.60V702.50 M606.17 695.60V702.50 M613.81 695.60V702.50 M621.46 695.60V702.50 M629.11 695.60V702.50 M636.75 695.60V702.50 M644.39 695.60V702.50 M652.04 695.60V702.50 M659.68 695.60V702.50 M667.33 695.60V702.50 M674.98 695.60V702.50 M682.62 695.60V702.50 M690.26 695.60V702.50 M697.91 695.60V702.50 M705.55 695.60V702.50 M713.20 695.60V702.50 M720.85 695.60V702.50 M728.49 695.60V702.50 M736.13 695.60V702.50 M743.78 695.60V702.50" stroke="#000" stroke-width="1.8" fill="none"/>
<text transform="translate(28.25,412.45) scale(1.0700,1)" font-size="19.00" fill="#000">1.0</text>
<text transform="translate(28.36,460.90) scale(1.0700,1)" font-size="19.00" fill="#000">0.9</text>
<text transform="translate(28.25,509.35) scale(1.0700,1)" font-size="19.00" fill="#000">0.8</text>
<text transform="translate(28.46,557.80) scale(1.0700,1)" font-size="19.00" fill="#000">0.7</text>
<text transform="translate(28.36,606.25) scale(1.0700,1)" font-size="19.00" fill="#000">0.6</text>
<text transform="translate(28.25,654.70) scale(1.0700,1)" font-size="19.00" fill="#000">0.5</text>
<text transform="translate(28.05,703.15) scale(1.0700,1)" font-size="19.00" fill="#000">0.4</text>
<text transform="translate(16.70,570.64) rotate(-90) scale(1.0818,1)" font-size="19.00" fill="#000">ratios</text>
<text transform="translate(372.19,728.60) scale(1.0772,1)" font-size="18.70" fill="#000">core genes</text>
<text transform="translate(608.37,685.60) scale(1.0540,1)" font-size="17.40" fill="#000">85 genes</text>
<rect x="78.70" y="522.10" width="224.30" height="164.40" rx="3.3" fill="#fff" fill-opacity="0.8" stroke="#d4d4d4" stroke-width="1.2"/>
<text transform="translate(100.16,543.10) scale(1.0994,1)" font-size="18.80" fill="#000">products</text>
<circle cx="103.80" cy="564.60" r="6.3" fill="#1f77b4"/>
<text transform="translate(135.34,569.70) scale(1.1160,1)" font-size="18.80" fill="#000">ribosomal protein</text>
<circle cx="103.80" cy="591.20" r="6.3" fill="#fa8018"/>
<text transform="translate(135.86,596.30) scale(1.1110,1)" font-size="18.80" fill="#000">others</text>
<text transform="translate(100.69,622.90) scale(1.1116,1)" font-size="18.80" fill="#000">types</text>
<circle cx="103.80" cy="644.40" r="6.3" fill="#2f2f2f"/>
<text transform="translate(135.86,649.50) scale(1.0997,1)" font-size="18.80" fill="#000">presence ratio</text>
<path d="M100.65 664.70 L103.80 667.85 L106.95 664.70 L110.10 667.85 L106.95 671.00 L110.10 674.15 L106.95 677.30 L103.80 674.15 L100.65 677.30 L97.50 674.15 L100.65 671.00 L97.50 667.85Z" fill="#2f2f2f"/>
<text transform="translate(136.58,676.10) scale(1.1074,1)" font-size="18.80" fill="#000">single-copy ratio</text>
<text transform="translate(7.63,380.85) scale(0.8956,1)" font-size="24.00" fill="#000" stroke="#000" stroke-width="0.3">B</text>
</svg>
</body></html>
